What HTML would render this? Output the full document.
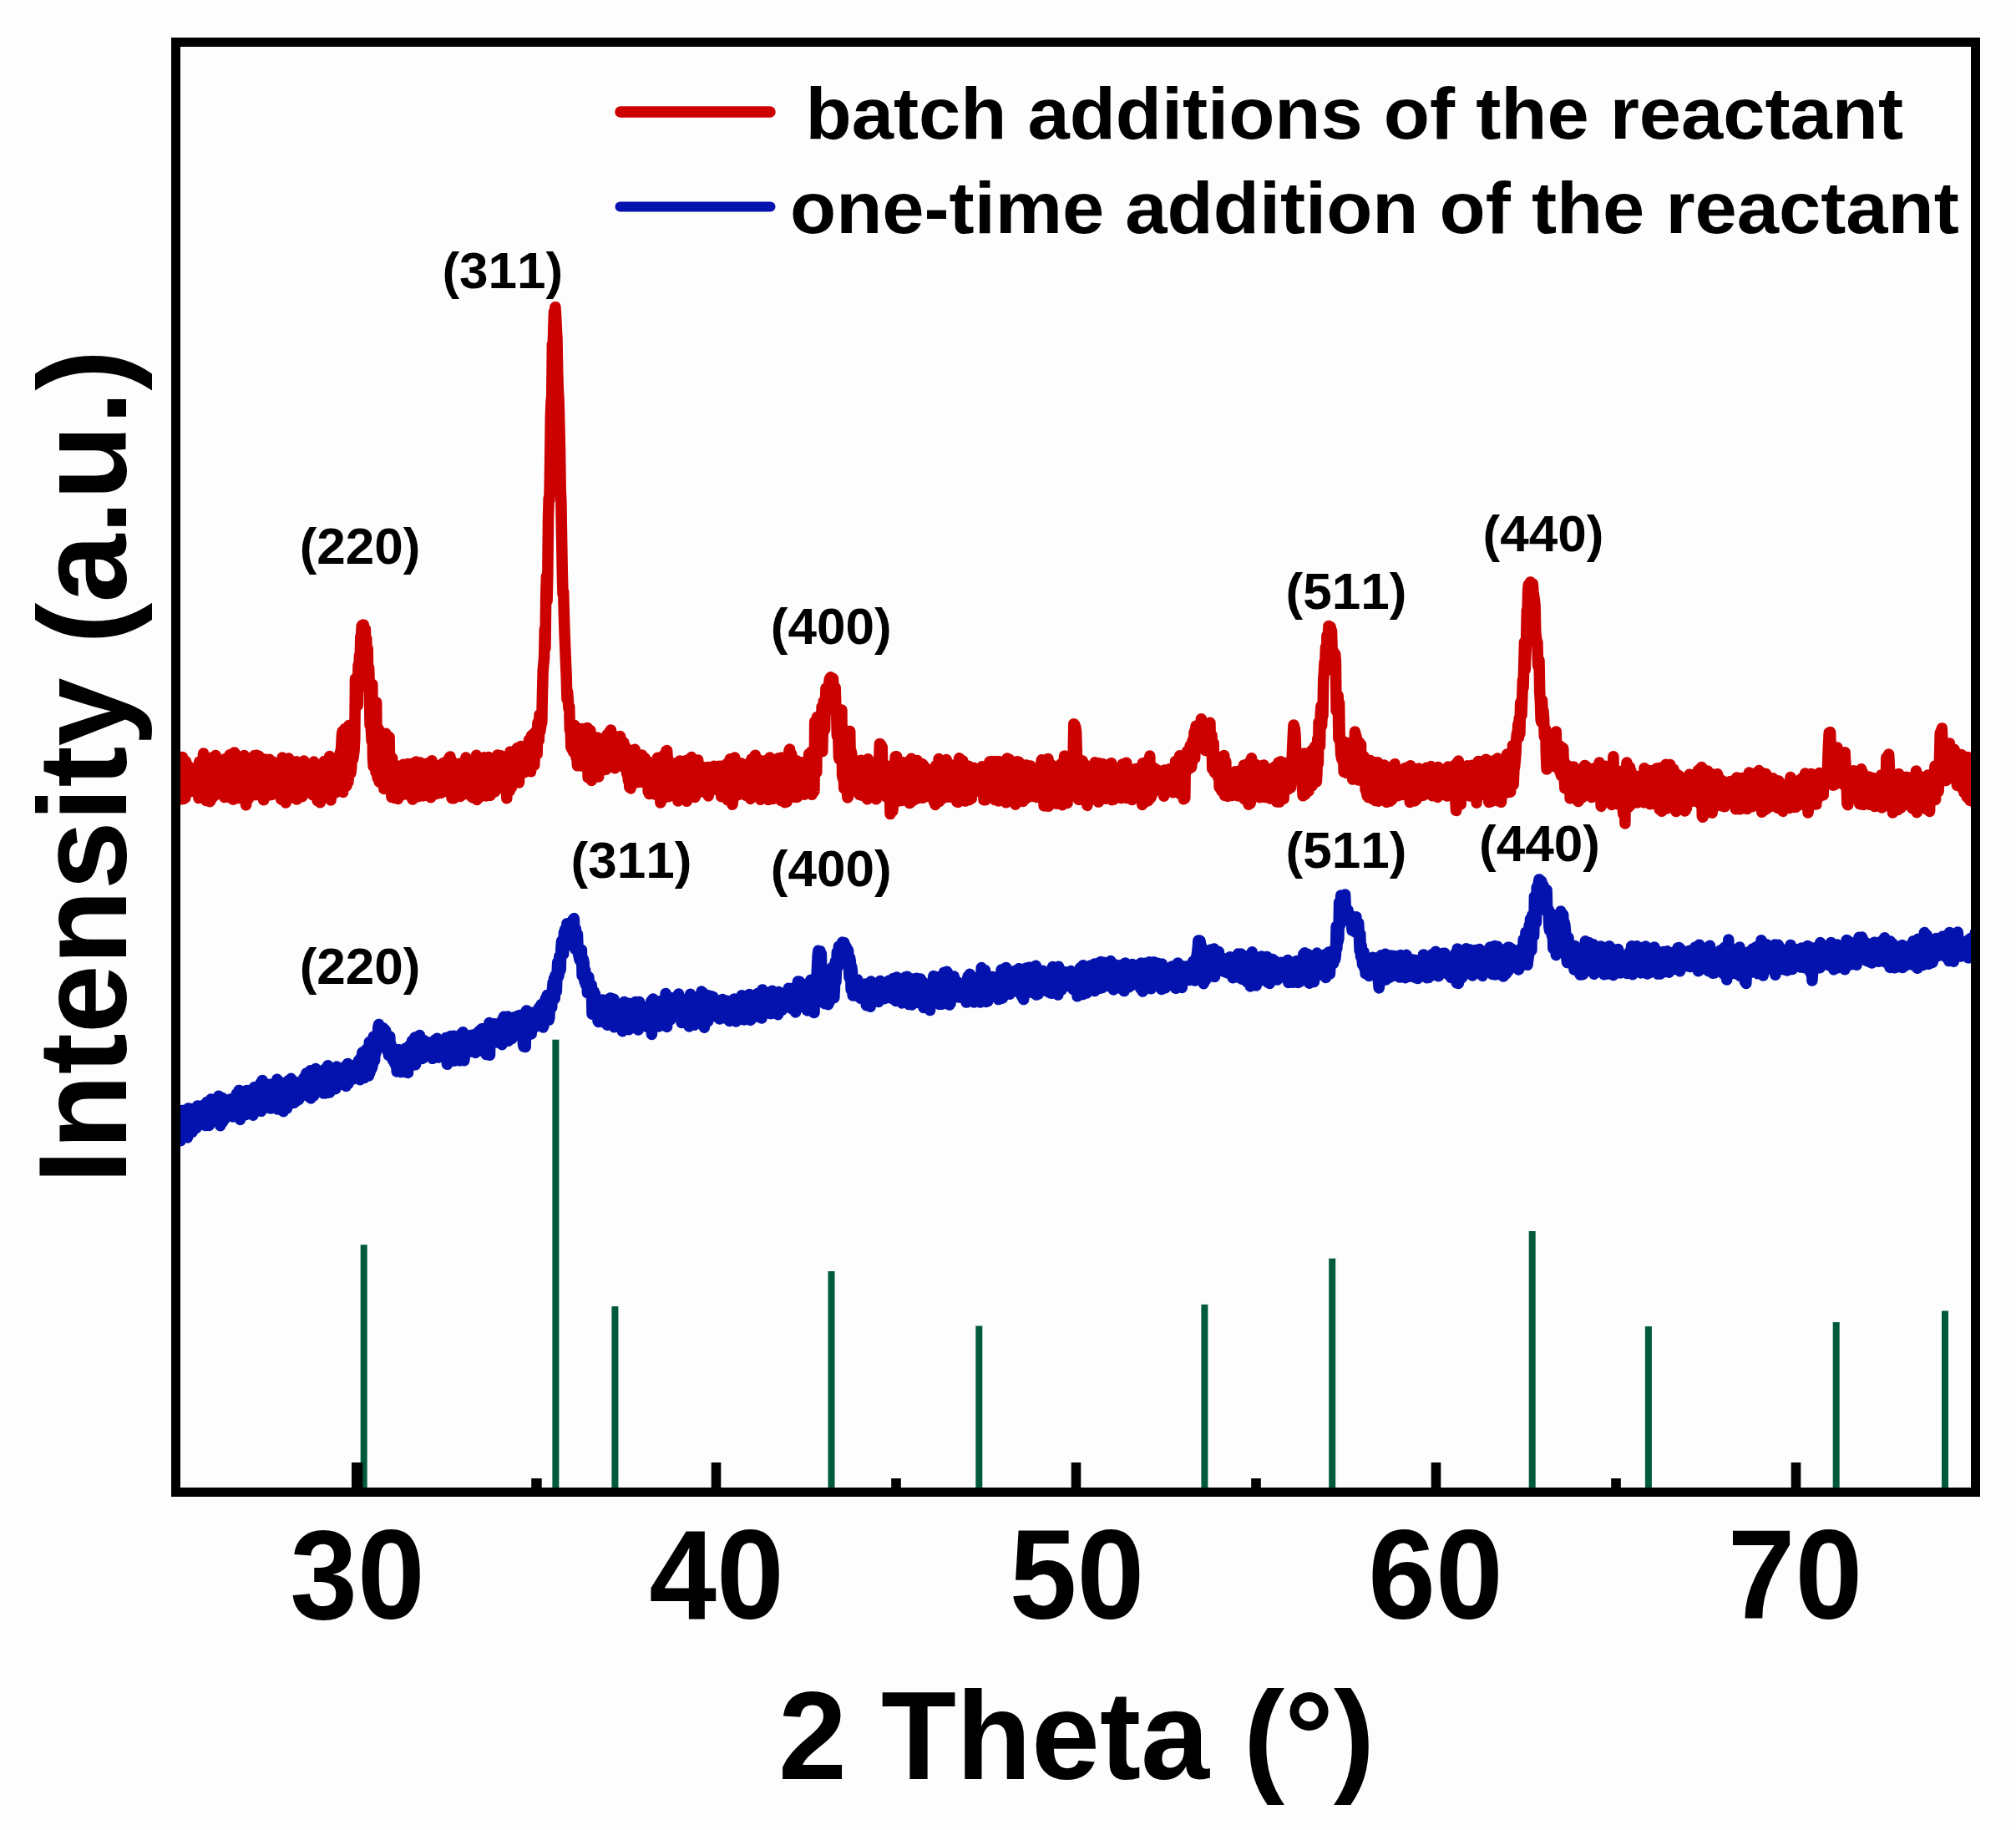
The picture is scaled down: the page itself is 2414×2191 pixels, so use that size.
<!DOCTYPE html>
<html lang="en">
<head>
<meta charset="utf-8">
<title>XRD patterns</title>
<style>
html,body{margin:0;padding:0;background:#fdfdfd;}
body{width:2414px;height:2191px;overflow:hidden;}
svg{display:block;}
text{font-family:"Liberation Sans",Arial,Helvetica,sans-serif;font-weight:bold;fill:#000;font-kerning:none;}
.pk{font-size:60.5px;}
.ax{font-size:150px;}
.tk{font-size:152px;}
.lg{font-size:87.6px;}
</style>
</head>
<body>
<svg width="2414" height="2191" viewBox="0 0 2414 2191">
<rect x="0" y="0" width="2414" height="2191" fill="#fdfdfd"/>
<defs><clipPath id="plot"><rect x="216" y="56" width="2144" height="1725"/></clipPath></defs>
<g fill="#005a3c">
<rect x="431.7" y="1490.3" width="8" height="291.7"/>
<rect x="661.4" y="1244.7" width="8" height="537.3"/>
<rect x="732.4" y="1564.0" width="8" height="218.0"/>
<rect x="991.5" y="1522.0" width="8" height="260.0"/>
<rect x="1168.3" y="1587.4" width="8" height="194.6"/>
<rect x="1438.4" y="1561.8" width="8" height="220.2"/>
<rect x="1591.2" y="1506.7" width="8" height="275.3"/>
<rect x="1830.7" y="1474.0" width="8" height="308.0"/>
<rect x="1969.9" y="1588.0" width="8" height="194.0"/>
<rect x="2194.7" y="1583.0" width="8" height="199.0"/>
<rect x="2325.0" y="1569.4" width="8" height="212.6"/>
</g>
<g clip-path="url(#plot)" fill="none" stroke-linejoin="round" stroke-linecap="round">
<path stroke="#0413ae" stroke-width="13.5" d="M205.0 1334.2L205.7 1334.8L206.4 1340.0L207.1 1329.6L207.8 1362.1L208.5 1360.2L209.2 1360.2L209.9 1332.2L210.6 1363.9L211.3 1351.4L212.0 1329.0L212.7 1353.6L213.4 1341.9L214.1 1348.1L214.8 1329.7L215.5 1361.9L216.2 1365.7L216.9 1362.8L217.6 1333.4L218.3 1329.4L219.0 1355.4L219.7 1360.5L220.4 1343.2L221.1 1359.5L221.8 1349.6L222.5 1350.5L223.2 1340.7L223.9 1340.5L224.6 1361.9L225.3 1327.0L226.0 1330.2L226.7 1347.4L227.4 1327.6L228.1 1329.1L228.8 1354.5L229.5 1338.6L230.2 1355.4L230.9 1353.6L231.6 1345.2L232.3 1341.8L233.0 1335.0L233.7 1350.8L234.4 1328.7L235.1 1350.4L235.8 1331.8L236.5 1323.9L237.2 1333.4L237.9 1334.0L238.6 1343.5L239.3 1327.1L240.0 1339.7L240.7 1334.7L241.4 1334.5L242.1 1330.9L242.8 1346.5L243.5 1327.7L244.2 1322.9L244.9 1335.6L245.6 1322.6L246.3 1347.6L247.0 1327.2L247.7 1319.4L248.4 1339.8L249.1 1321.3L249.8 1338.1L250.5 1347.4L251.2 1345.8L251.9 1318.1L252.6 1315.9L253.3 1323.7L254.0 1327.6L254.7 1338.6L255.4 1340.6L256.1 1318.8L256.8 1324.1L257.5 1335.4L258.2 1341.9L258.9 1340.4L259.6 1321.5L260.3 1332.4L261.0 1325.3L261.7 1312.2L262.4 1315.8L263.1 1333.9L263.8 1347.7L264.5 1322.2L265.2 1318.9L265.9 1314.5L266.6 1343.5L267.3 1316.9L268.0 1321.3L268.7 1340.2L269.4 1321.3L270.1 1325.5L270.8 1321.0L271.5 1317.1L272.2 1318.9L272.9 1333.5L273.6 1323.0L274.3 1317.9L275.0 1332.0L275.7 1316.0L276.4 1319.5L277.1 1322.0L277.8 1321.4L278.5 1336.9L279.2 1335.7L279.9 1329.6L280.6 1316.1L281.3 1330.6L282.0 1325.4L282.7 1337.0L283.4 1309.5L284.1 1330.8L284.8 1330.4L285.5 1308.1L286.2 1305.4L286.9 1308.1L287.6 1340.5L288.3 1325.3L289.0 1318.1L289.7 1331.2L290.4 1335.0L291.1 1307.1L291.8 1326.5L292.5 1328.1L293.2 1319.1L293.9 1306.7L294.6 1334.6L295.3 1305.6L296.0 1333.2L296.7 1321.0L297.4 1327.5L298.1 1315.9L298.8 1314.2L299.5 1305.3L300.2 1307.8L300.9 1313.2L301.6 1312.8L302.3 1307.5L303.0 1335.2L303.7 1305.5L304.4 1301.7L305.1 1309.0L305.8 1312.7L306.5 1314.2L307.2 1327.8L307.9 1313.9L308.6 1321.9L309.3 1322.7L310.0 1329.8L310.7 1301.8L311.4 1299.8L312.1 1296.8L312.8 1330.5L313.5 1316.5L314.2 1293.5L314.9 1328.0L315.6 1297.3L316.3 1301.0L317.0 1300.0L317.7 1312.5L318.4 1324.6L319.1 1322.1L319.8 1319.5L320.5 1323.8L321.2 1305.8L321.9 1298.6L322.6 1317.1L323.3 1298.2L324.0 1327.1L324.7 1323.0L325.4 1308.1L326.1 1314.0L326.8 1320.7L327.5 1314.0L328.2 1320.6L328.9 1322.9L329.6 1313.7L330.3 1305.3L331.0 1304.8L331.7 1292.3L332.4 1328.1L333.1 1316.7L333.8 1294.2L334.5 1294.9L335.2 1304.6L335.9 1323.2L336.6 1325.5L337.3 1328.3L338.0 1308.7L338.7 1315.0L339.4 1330.8L340.1 1312.4L340.8 1328.5L341.5 1303.1L342.2 1317.8L342.9 1326.2L343.6 1327.1L344.3 1322.4L345.0 1294.1L345.7 1293.4L346.4 1295.5L347.1 1306.2L347.8 1320.8L348.5 1291.3L349.2 1299.6L349.9 1314.7L350.6 1294.4L351.3 1294.5L352.0 1320.5L352.7 1294.9L353.4 1308.6L354.1 1318.9L354.8 1301.0L355.5 1313.5L356.2 1314.2L356.9 1311.6L357.6 1316.6L358.3 1306.2L359.0 1308.2L359.7 1296.4L360.4 1304.1L361.1 1311.2L361.8 1309.6L362.5 1295.0L363.2 1304.5L363.9 1290.6L364.6 1301.7L365.3 1299.2L366.0 1311.2L366.7 1285.1L367.4 1309.3L368.1 1296.8L368.8 1287.7L369.5 1302.6L370.2 1313.4L370.9 1310.8L371.6 1281.8L372.3 1314.9L373.0 1290.9L373.7 1284.3L374.4 1304.1L375.1 1301.9L375.8 1311.8L376.5 1285.7L377.2 1281.7L377.9 1279.5L378.6 1290.7L379.3 1297.0L380.0 1302.2L380.7 1300.4L381.4 1282.2L382.1 1283.6L382.8 1292.2L383.5 1290.8L384.2 1284.3L384.9 1283.4L385.6 1304.2L386.3 1303.7L387.0 1308.9L387.7 1284.4L388.4 1286.8L389.1 1279.9L389.8 1308.9L390.5 1301.9L391.2 1300.7L391.9 1289.3L392.6 1275.8L393.3 1308.2L394.0 1294.1L394.7 1308.0L395.4 1280.3L396.1 1302.2L396.8 1285.7L397.5 1291.2L398.2 1287.3L398.9 1280.3L399.6 1281.1L400.3 1303.8L401.0 1300.5L401.7 1303.6L402.4 1279.0L403.1 1277.1L403.8 1295.6L404.5 1278.4L405.2 1283.0L405.9 1296.2L406.6 1291.7L407.3 1297.0L408.0 1280.0L408.7 1280.0L409.4 1298.3L410.1 1286.8L410.8 1280.3L411.5 1282.5L412.2 1293.9L412.9 1291.9L413.6 1276.4L414.3 1300.4L415.0 1298.5L415.7 1283.3L416.4 1273.4L417.1 1297.5L417.8 1283.0L418.5 1289.4L419.2 1277.6L419.9 1276.4L420.6 1279.2L421.3 1290.9L422.0 1292.2L422.7 1281.0L423.4 1289.6L424.1 1288.1L424.8 1287.1L425.5 1274.7L426.2 1290.9L426.9 1275.3L427.6 1290.8L428.3 1288.1L429.0 1291.6L429.7 1269.4L430.4 1272.7L431.1 1292.7L431.8 1266.8L432.5 1284.3L433.2 1265.8L433.9 1260.0L434.6 1269.3L435.3 1270.0L436.0 1290.6L436.7 1271.0L437.4 1265.8L438.1 1276.0L438.8 1256.1L439.5 1257.5L440.2 1288.3L440.9 1282.1L441.6 1288.0L442.3 1247.5L443.0 1284.1L443.7 1280.2L444.4 1268.9L445.1 1279.4L445.8 1277.1L446.5 1273.5L447.2 1241.1L447.9 1257.7L448.6 1269.7L449.3 1243.8L450.0 1260.6L450.7 1253.2L451.4 1250.0L452.1 1246.2L452.8 1230.3L453.5 1226.5L454.2 1230.9L454.9 1240.9L455.6 1229.9L456.3 1230.4L457.0 1232.0L457.7 1234.9L458.4 1230.7L459.1 1238.8L459.8 1242.5L460.5 1232.5L461.2 1247.2L461.9 1234.6L462.6 1239.9L463.3 1257.5L464.0 1254.4L464.7 1257.7L465.4 1263.4L466.1 1247.2L466.8 1240.9L467.5 1258.3L468.2 1250.8L468.9 1263.5L469.6 1267.5L470.3 1257.2L471.0 1270.3L471.7 1256.1L472.4 1271.7L473.1 1274.3L473.8 1274.7L474.5 1267.0L475.2 1283.0L475.9 1273.3L476.6 1256.8L477.3 1256.5L478.0 1265.5L478.7 1268.6L479.4 1281.9L480.1 1283.6L480.8 1266.1L481.5 1276.5L482.2 1261.9L482.9 1259.7L483.6 1273.6L484.3 1275.9L485.0 1275.2L485.7 1254.9L486.4 1283.9L487.1 1278.0L487.8 1281.2L488.5 1284.4L489.2 1254.2L489.9 1270.2L490.6 1251.4L491.3 1268.8L492.0 1276.4L492.7 1264.6L493.4 1246.2L494.1 1265.5L494.8 1272.6L495.5 1270.8L496.2 1274.0L496.9 1242.0L497.6 1274.8L498.3 1251.9L499.0 1245.3L499.7 1252.9L500.4 1242.4L501.1 1248.2L501.8 1261.3L502.5 1239.5L503.2 1245.2L503.9 1244.4L504.6 1266.1L505.3 1267.5L506.0 1258.9L506.7 1266.9L507.4 1245.5L508.1 1265.2L508.8 1262.3L509.5 1247.6L510.2 1251.3L510.9 1250.1L511.6 1250.4L512.3 1263.0L513.0 1247.9L513.7 1251.5L514.4 1249.8L515.1 1258.8L515.8 1258.1L516.5 1265.7L517.2 1263.6L517.9 1267.3L518.6 1251.9L519.3 1248.0L520.0 1259.6L520.7 1245.2L521.4 1246.2L522.1 1264.9L522.8 1263.6L523.5 1243.3L524.2 1244.4L524.9 1266.1L525.6 1265.7L526.3 1264.1L527.0 1262.5L527.7 1252.4L528.4 1260.9L529.1 1247.2L529.8 1257.1L530.5 1250.4L531.2 1260.7L531.9 1247.4L532.6 1247.6L533.3 1247.0L534.0 1242.5L534.7 1263.4L535.4 1274.3L536.1 1270.0L536.8 1252.2L537.5 1269.9L538.2 1254.3L538.9 1254.6L539.6 1240.4L540.3 1258.8L541.0 1264.9L541.7 1247.5L542.4 1241.1L543.1 1240.2L543.8 1270.2L544.5 1247.0L545.2 1266.1L545.9 1250.3L546.6 1248.0L547.3 1267.6L548.0 1243.4L548.7 1256.6L549.4 1250.2L550.1 1269.9L550.8 1259.4L551.5 1263.1L552.2 1237.8L552.9 1248.3L553.6 1247.9L554.3 1235.7L555.0 1266.2L555.7 1269.8L556.4 1265.1L557.1 1262.2L557.8 1248.0L558.5 1247.1L559.2 1241.0L559.9 1242.9L560.6 1243.8L561.3 1255.3L562.0 1244.7L562.7 1250.1L563.4 1239.5L564.1 1258.9L564.8 1239.6L565.5 1255.5L566.2 1241.2L566.9 1241.8L567.6 1238.7L568.3 1242.9L569.0 1260.4L569.7 1255.3L570.4 1239.8L571.1 1258.9L571.8 1236.6L572.5 1239.9L573.2 1242.4L573.9 1234.5L574.6 1234.2L575.3 1234.6L576.0 1255.8L576.7 1231.8L577.4 1258.0L578.1 1248.3L578.8 1237.1L579.5 1231.4L580.2 1259.9L580.9 1256.7L581.6 1250.6L582.3 1262.6L583.0 1232.4L583.7 1235.2L584.4 1229.6L585.1 1252.1L585.8 1224.6L586.5 1263.3L587.2 1227.5L587.9 1248.9L588.6 1237.6L589.3 1249.4L590.0 1226.1L590.7 1229.7L591.4 1225.7L592.1 1235.8L592.8 1243.9L593.5 1246.7L594.2 1245.0L594.9 1245.2L595.6 1232.7L596.3 1248.3L597.0 1237.7L597.7 1243.4L598.4 1228.8L599.1 1239.9L599.8 1224.2L600.5 1222.5L601.2 1250.7L601.9 1233.9L602.6 1247.7L603.3 1217.3L604.0 1238.0L604.7 1217.9L605.4 1219.4L606.1 1221.1L606.8 1245.0L607.5 1241.6L608.2 1217.1L608.9 1246.2L609.6 1225.1L610.3 1229.0L611.0 1221.2L611.7 1237.3L612.4 1220.0L613.1 1243.4L613.8 1220.9L614.5 1223.9L615.2 1218.4L615.9 1217.8L616.6 1235.6L617.3 1233.8L618.0 1236.7L618.7 1229.2L619.4 1216.6L620.1 1238.6L620.8 1238.7L621.5 1236.9L622.2 1215.4L622.9 1217.5L623.6 1236.8L624.3 1241.5L625.0 1231.5L625.7 1226.8L626.4 1249.9L627.1 1253.0L627.8 1218.5L628.5 1216.0L629.2 1253.6L629.9 1210.8L630.6 1209.9L631.3 1234.0L632.0 1237.0L632.7 1226.3L633.4 1229.5L634.1 1216.7L634.8 1216.7L635.5 1230.9L636.2 1238.0L636.9 1212.3L637.6 1218.5L638.3 1217.5L639.0 1215.3L639.7 1230.4L640.4 1213.0L641.1 1227.4L641.8 1225.5L642.5 1211.6L643.2 1213.2L643.9 1226.3L644.6 1224.5L645.3 1206.8L646.0 1208.6L646.7 1209.2L647.4 1222.0L648.1 1202.6L648.8 1217.9L649.5 1214.0L650.2 1230.0L650.9 1228.4L651.6 1219.6L652.3 1220.3L653.0 1196.2L653.7 1204.1L654.4 1197.5L655.1 1191.6L655.8 1196.2L656.5 1211.5L657.2 1221.1L657.9 1218.2L658.6 1198.0L659.3 1206.9L660.0 1206.2L660.7 1206.2L661.4 1184.3L662.1 1176.7L662.8 1188.7L663.5 1171.1L664.2 1195.8L664.9 1168.0L665.6 1173.7L666.3 1187.2L667.0 1167.7L667.7 1151.9L668.4 1169.7L669.1 1167.6L669.8 1145.0L670.5 1162.6L671.2 1160.8L671.9 1134.5L672.6 1126.4L673.3 1131.9L674.0 1136.9L674.7 1142.2L675.4 1116.1L676.1 1128.0L676.8 1112.4L677.5 1125.3L678.2 1132.4L678.9 1105.7L679.6 1122.9L680.3 1115.6L681.0 1108.2L681.7 1110.8L682.4 1111.1L683.1 1107.5L683.8 1112.5L684.5 1112.1L685.2 1108.4L685.9 1101.0L686.6 1100.6L687.3 1099.6L688.0 1113.8L688.7 1136.3L689.4 1112.4L690.1 1127.1L690.8 1134.4L691.5 1118.4L692.2 1140.8L692.9 1143.8L693.6 1146.9L694.3 1149.7L695.0 1149.9L695.7 1142.4L696.4 1137.3L697.1 1168.3L697.8 1168.9L698.5 1149.1L699.2 1152.6L699.9 1174.8L700.6 1161.2L701.3 1178.5L702.0 1178.7L702.7 1167.5L703.4 1188.8L704.1 1171.5L704.8 1169.5L705.5 1176.4L706.2 1179.7L706.9 1187.9L707.6 1184.6L708.3 1179.8L709.0 1214.2L709.7 1194.2L710.4 1207.6L711.1 1187.1L711.8 1192.5L712.5 1190.0L713.2 1202.3L713.9 1199.3L714.6 1210.1L715.3 1196.4L716.0 1222.3L716.7 1223.5L717.4 1213.8L718.1 1221.4L718.8 1209.3L719.5 1216.2L720.2 1201.1L720.9 1223.1L721.6 1197.0L722.3 1214.7L723.0 1198.7L723.7 1224.3L724.4 1221.0L725.1 1205.6L725.8 1198.2L726.5 1207.2L727.2 1227.3L727.9 1203.2L728.6 1196.2L729.3 1197.0L730.0 1199.3L730.7 1194.9L731.4 1206.7L732.1 1219.8L732.8 1196.1L733.5 1203.2L734.2 1205.8L734.9 1196.2L735.6 1229.8L736.3 1221.6L737.0 1210.3L737.7 1209.5L738.4 1204.1L739.1 1215.6L739.8 1203.2L740.5 1221.6L741.2 1203.5L741.9 1212.9L742.6 1219.5L743.3 1214.7L744.0 1229.0L744.7 1211.3L745.4 1234.7L746.1 1210.1L746.8 1224.6L747.5 1199.5L748.2 1212.3L748.9 1214.8L749.6 1216.0L750.3 1212.4L751.0 1202.8L751.7 1225.5L752.4 1201.3L753.1 1232.7L753.8 1209.4L754.5 1206.4L755.2 1212.3L755.9 1219.7L756.6 1204.5L757.3 1230.3L758.0 1226.0L758.7 1222.0L759.4 1209.4L760.1 1206.7L760.8 1199.4L761.5 1231.0L762.2 1203.9L762.9 1206.9L763.6 1213.5L764.3 1233.0L765.0 1221.5L765.7 1199.6L766.4 1207.6L767.1 1227.8L767.8 1224.2L768.5 1204.6L769.2 1218.9L769.9 1218.8L770.6 1208.2L771.3 1228.2L772.0 1222.3L772.7 1227.1L773.4 1228.9L774.1 1223.3L774.8 1210.0L775.5 1229.7L776.2 1222.8L776.9 1224.6L777.6 1220.4L778.3 1203.5L779.0 1216.5L779.7 1198.7L780.4 1238.4L781.1 1206.2L781.8 1196.0L782.5 1201.3L783.2 1203.0L783.9 1200.7L784.6 1202.7L785.3 1201.9L786.0 1216.6L786.7 1203.0L787.4 1219.6L788.1 1199.0L788.8 1228.9L789.5 1209.6L790.2 1201.7L790.9 1217.8L791.6 1227.8L792.3 1198.1L793.0 1199.7L793.7 1199.2L794.4 1225.0L795.1 1215.4L795.8 1224.5L796.5 1221.3L797.2 1189.4L797.9 1223.1L798.6 1229.4L799.3 1194.5L800.0 1218.8L800.7 1210.5L801.4 1195.6L802.1 1194.5L802.8 1221.0L803.5 1208.8L804.2 1208.1L804.9 1209.1L805.6 1196.0L806.3 1194.8L807.0 1196.8L807.7 1206.5L808.4 1210.0L809.1 1204.0L809.8 1193.3L810.5 1209.3L811.2 1195.9L811.9 1201.4L812.6 1190.1L813.3 1205.7L814.0 1216.7L814.7 1211.1L815.4 1208.1L816.1 1224.5L816.8 1219.5L817.5 1208.0L818.2 1200.6L818.9 1199.2L819.6 1197.3L820.3 1202.7L821.0 1197.5L821.7 1221.9L822.4 1216.0L823.1 1195.9L823.8 1226.6L824.5 1194.6L825.2 1229.0L825.9 1203.7L826.6 1190.2L827.3 1208.7L828.0 1216.1L828.7 1196.5L829.4 1220.3L830.1 1199.4L830.8 1205.1L831.5 1227.3L832.2 1217.3L832.9 1203.2L833.6 1222.5L834.3 1199.4L835.0 1219.1L835.7 1200.6L836.4 1222.1L837.1 1215.6L837.8 1203.7L838.5 1225.3L839.2 1208.8L839.9 1187.1L840.6 1195.0L841.3 1188.0L842.0 1211.1L842.7 1214.1L843.4 1230.2L844.1 1215.4L844.8 1211.8L845.5 1222.1L846.2 1220.6L846.9 1191.5L847.6 1222.9L848.3 1204.8L849.0 1211.5L849.7 1206.8L850.4 1207.3L851.1 1192.6L851.8 1210.2L852.5 1204.6L853.2 1214.7L853.9 1193.5L854.6 1215.3L855.3 1201.9L856.0 1214.7L856.7 1216.9L857.4 1213.0L858.1 1216.5L858.8 1213.4L859.5 1207.4L860.2 1204.3L860.9 1206.1L861.6 1219.9L862.3 1200.2L863.0 1218.5L863.7 1200.6L864.4 1214.4L865.1 1196.4L865.8 1214.7L866.5 1216.3L867.2 1217.3L867.9 1213.2L868.6 1219.2L869.3 1211.2L870.0 1200.5L870.7 1198.2L871.4 1219.5L872.1 1213.4L872.8 1201.6L873.5 1222.6L874.2 1213.4L874.9 1221.0L875.6 1216.0L876.3 1216.3L877.0 1215.3L877.7 1220.0L878.4 1202.9L879.1 1196.0L879.8 1215.7L880.5 1213.4L881.2 1223.0L881.9 1200.1L882.6 1202.2L883.3 1198.5L884.0 1204.6L884.7 1203.2L885.4 1200.7L886.1 1220.5L886.8 1217.9L887.5 1213.1L888.2 1191.8L888.9 1198.6L889.6 1211.0L890.3 1196.1L891.0 1220.9L891.7 1217.8L892.4 1213.5L893.1 1213.1L893.8 1193.6L894.5 1218.5L895.2 1210.1L895.9 1208.7L896.6 1208.7L897.3 1190.4L898.0 1200.3L898.7 1221.5L899.4 1220.5L900.1 1192.0L900.8 1218.1L901.5 1216.2L902.2 1203.8L902.9 1217.6L903.6 1212.2L904.3 1205.5L905.0 1202.1L905.7 1213.7L906.4 1207.1L907.1 1189.5L907.8 1202.5L908.5 1216.7L909.2 1195.9L909.9 1193.8L910.6 1211.6L911.3 1216.9L912.0 1219.1L912.7 1185.0L913.4 1188.1L914.1 1214.1L914.8 1207.6L915.5 1187.5L916.2 1211.3L916.9 1205.9L917.6 1189.5L918.3 1190.6L919.0 1196.4L919.7 1193.2L920.4 1188.0L921.1 1191.4L921.8 1213.6L922.5 1195.7L923.2 1189.3L923.9 1213.6L924.6 1186.3L925.3 1211.8L926.0 1189.6L926.7 1197.0L927.4 1210.5L928.1 1207.5L928.8 1201.0L929.5 1199.0L930.2 1198.3L930.9 1197.7L931.6 1214.8L932.3 1187.4L933.0 1191.1L933.7 1191.3L934.4 1204.4L935.1 1189.4L935.8 1205.8L936.5 1209.3L937.2 1208.0L937.9 1201.7L938.6 1198.4L939.3 1192.4L940.0 1189.8L940.7 1206.1L941.4 1188.9L942.1 1189.0L942.8 1186.9L943.5 1203.8L944.2 1183.3L944.9 1189.5L945.6 1186.5L946.3 1190.3L947.0 1192.5L947.7 1183.6L948.4 1207.8L949.1 1206.7L949.8 1190.7L950.5 1197.5L951.2 1186.1L951.9 1187.0L952.6 1211.9L953.3 1202.3L954.0 1207.2L954.7 1186.7L955.4 1175.1L956.1 1175.2L956.8 1198.3L957.5 1175.3L958.2 1203.1L958.9 1203.5L959.6 1202.6L960.3 1188.0L961.0 1202.7L961.7 1200.3L962.4 1204.0L963.1 1206.1L963.8 1185.7L964.5 1189.7L965.2 1187.2L965.9 1189.9L966.6 1209.9L967.3 1177.5L968.0 1181.5L968.7 1192.0L969.4 1179.6L970.1 1184.9L970.8 1173.3L971.5 1193.0L972.2 1199.1L972.9 1202.1L973.6 1175.1L974.3 1212.2L975.0 1212.4L975.7 1181.4L976.4 1178.4L977.1 1201.8L977.8 1173.7L978.5 1157.7L979.2 1143.6L979.9 1138.2L980.6 1139.4L981.3 1140.8L982.0 1138.7L982.7 1144.6L983.4 1142.2L984.1 1177.4L984.8 1176.9L985.5 1179.3L986.2 1192.4L986.9 1182.6L987.6 1201.8L988.3 1192.4L989.0 1201.7L989.7 1187.2L990.4 1192.3L991.1 1193.5L991.8 1202.7L992.5 1179.9L993.2 1199.6L993.9 1186.2L994.6 1197.2L995.3 1176.5L996.0 1173.7L996.7 1158.0L997.4 1171.2L998.1 1176.6L998.8 1194.6L999.5 1180.4L1000.2 1151.2L1000.9 1175.7L1001.6 1159.9L1002.3 1140.0L1003.0 1158.5L1003.7 1150.2L1004.4 1132.9L1005.1 1143.9L1005.8 1149.9L1006.5 1133.1L1007.2 1130.9L1007.9 1135.9L1008.6 1128.1L1009.3 1129.2L1010.0 1131.0L1010.7 1128.5L1011.4 1132.5L1012.1 1132.0L1012.8 1150.2L1013.5 1134.3L1014.2 1136.0L1014.9 1138.1L1015.6 1138.2L1016.3 1153.7L1017.0 1170.5L1017.7 1147.0L1018.4 1151.9L1019.1 1184.8L1019.8 1157.6L1020.5 1163.7L1021.2 1191.9L1021.9 1189.8L1022.6 1175.9L1023.3 1187.7L1024.0 1182.8L1024.7 1192.1L1025.4 1180.1L1026.1 1189.9L1026.8 1173.1L1027.5 1175.3L1028.2 1183.1L1028.9 1188.8L1029.6 1192.5L1030.3 1195.2L1031.0 1177.9L1031.7 1195.0L1032.4 1194.9L1033.1 1188.0L1033.8 1190.5L1034.5 1191.2L1035.2 1190.9L1035.9 1197.3L1036.6 1178.0L1037.3 1203.5L1038.0 1193.3L1038.7 1204.1L1039.4 1183.2L1040.1 1185.5L1040.8 1184.2L1041.5 1193.6L1042.2 1205.3L1042.9 1175.1L1043.6 1199.1L1044.3 1188.2L1045.0 1177.6L1045.7 1193.7L1046.4 1198.7L1047.1 1183.5L1047.8 1184.6L1048.5 1177.9L1049.2 1188.2L1049.9 1177.5L1050.6 1197.9L1051.3 1180.5L1052.0 1199.6L1052.7 1175.7L1053.4 1175.0L1054.1 1174.5L1054.8 1181.8L1055.5 1177.5L1056.2 1189.1L1056.9 1184.4L1057.6 1184.6L1058.3 1195.0L1059.0 1195.7L1059.7 1189.1L1060.4 1181.3L1061.1 1187.4L1061.8 1187.1L1062.5 1183.1L1063.2 1189.3L1063.9 1192.5L1064.6 1174.0L1065.3 1175.7L1066.0 1194.9L1066.7 1185.7L1067.4 1192.3L1068.1 1192.6L1068.8 1184.7L1069.5 1171.6L1070.2 1194.6L1070.9 1197.0L1071.6 1172.2L1072.3 1172.7L1073.0 1198.6L1073.7 1169.9L1074.4 1182.5L1075.1 1174.9L1075.8 1174.2L1076.5 1174.0L1077.2 1181.1L1077.9 1176.7L1078.6 1197.4L1079.3 1197.1L1080.0 1200.9L1080.7 1194.2L1081.4 1198.4L1082.1 1195.6L1082.8 1176.3L1083.5 1191.4L1084.2 1169.8L1084.9 1192.3L1085.6 1172.4L1086.3 1169.3L1087.0 1183.7L1087.7 1179.1L1088.4 1202.6L1089.1 1195.3L1089.8 1176.7L1090.5 1187.0L1091.2 1200.5L1091.9 1202.9L1092.6 1171.9L1093.3 1186.4L1094.0 1181.4L1094.7 1194.0L1095.4 1183.3L1096.1 1199.1L1096.8 1194.1L1097.5 1171.3L1098.2 1175.3L1098.9 1198.3L1099.6 1174.3L1100.3 1193.8L1101.0 1185.2L1101.7 1201.2L1102.4 1172.1L1103.1 1181.0L1103.8 1176.0L1104.5 1182.0L1105.2 1175.9L1105.9 1206.4L1106.6 1179.8L1107.3 1191.1L1108.0 1188.0L1108.7 1193.6L1109.4 1198.6L1110.1 1184.0L1110.8 1193.4L1111.5 1194.6L1112.2 1196.4L1112.9 1204.4L1113.6 1209.6L1114.3 1190.8L1115.0 1197.7L1115.7 1186.8L1116.4 1201.3L1117.1 1175.2L1117.8 1168.6L1118.5 1179.2L1119.2 1193.8L1119.9 1195.6L1120.6 1197.8L1121.3 1183.8L1122.0 1192.8L1122.7 1176.4L1123.4 1195.4L1124.1 1169.5L1124.8 1202.5L1125.5 1196.5L1126.2 1194.8L1126.9 1189.4L1127.6 1202.3L1128.3 1200.7L1129.0 1186.6L1129.7 1199.7L1130.4 1164.2L1131.1 1188.1L1131.8 1191.3L1132.5 1198.8L1133.2 1195.1L1133.9 1163.3L1134.6 1178.5L1135.3 1196.2L1136.0 1187.3L1136.7 1203.0L1137.4 1199.0L1138.1 1201.2L1138.8 1191.7L1139.5 1168.9L1140.2 1186.8L1140.9 1175.6L1141.6 1188.1L1142.3 1169.1L1143.0 1185.5L1143.7 1181.6L1144.4 1178.6L1145.1 1185.3L1145.8 1179.0L1146.5 1175.5L1147.2 1177.5L1147.9 1194.0L1148.6 1180.2L1149.3 1181.2L1150.0 1180.4L1150.7 1179.4L1151.4 1194.5L1152.1 1192.3L1152.8 1182.4L1153.5 1192.7L1154.2 1182.3L1154.9 1178.3L1155.6 1176.7L1156.3 1191.0L1157.0 1200.1L1157.7 1194.3L1158.4 1172.7L1159.1 1169.0L1159.8 1181.2L1160.5 1169.9L1161.2 1166.3L1161.9 1169.9L1162.6 1180.1L1163.3 1168.9L1164.0 1191.4L1164.7 1179.1L1165.4 1186.6L1166.1 1199.9L1166.8 1194.5L1167.5 1193.6L1168.2 1173.2L1168.9 1176.3L1169.6 1176.0L1170.3 1175.7L1171.0 1194.9L1171.7 1193.8L1172.4 1174.5L1173.1 1190.8L1173.8 1200.1L1174.5 1182.2L1175.2 1158.6L1175.9 1171.6L1176.6 1179.1L1177.3 1194.2L1178.0 1165.2L1178.7 1164.3L1179.4 1161.5L1180.1 1164.5L1180.8 1199.5L1181.5 1193.2L1182.2 1173.0L1182.9 1198.7L1183.6 1175.2L1184.3 1191.5L1185.0 1193.1L1185.7 1188.4L1186.4 1188.3L1187.1 1193.6L1187.8 1178.9L1188.5 1169.4L1189.2 1174.5L1189.9 1174.9L1190.6 1188.0L1191.3 1177.8L1192.0 1189.7L1192.7 1191.8L1193.4 1176.8L1194.1 1173.1L1194.8 1172.6L1195.5 1196.6L1196.2 1186.1L1196.9 1194.1L1197.6 1186.0L1198.3 1185.9L1199.0 1161.1L1199.7 1165.0L1200.4 1195.2L1201.1 1186.4L1201.8 1184.7L1202.5 1164.2L1203.2 1181.8L1203.9 1187.1L1204.6 1158.4L1205.3 1159.2L1206.0 1180.5L1206.7 1177.3L1207.4 1168.7L1208.1 1182.2L1208.8 1190.2L1209.5 1186.5L1210.2 1187.9L1210.9 1166.6L1211.6 1174.1L1212.3 1178.2L1213.0 1184.9L1213.7 1186.8L1214.4 1165.8L1215.1 1169.7L1215.8 1167.5L1216.5 1161.9L1217.2 1180.2L1217.9 1176.1L1218.6 1167.8L1219.3 1165.9L1220.0 1159.7L1220.7 1168.1L1221.4 1178.9L1222.1 1184.6L1222.8 1191.7L1223.5 1173.1L1224.2 1171.0L1224.9 1195.0L1225.6 1196.6L1226.3 1191.0L1227.0 1170.8L1227.7 1159.8L1228.4 1159.3L1229.1 1172.9L1229.8 1188.7L1230.5 1176.8L1231.2 1158.6L1231.9 1187.7L1232.6 1158.3L1233.3 1162.7L1234.0 1158.3L1234.7 1158.5L1235.4 1180.1L1236.1 1162.8L1236.8 1174.4L1237.5 1188.9L1238.2 1187.0L1238.9 1175.2L1239.6 1162.7L1240.3 1156.2L1241.0 1191.1L1241.7 1167.4L1242.4 1183.1L1243.1 1190.2L1243.8 1188.0L1244.5 1181.5L1245.2 1170.8L1245.9 1180.9L1246.6 1168.3L1247.3 1186.2L1248.0 1180.7L1248.7 1162.3L1249.4 1164.8L1250.1 1174.3L1250.8 1169.6L1251.5 1180.5L1252.2 1181.3L1252.9 1185.7L1253.6 1178.1L1254.3 1187.0L1255.0 1180.7L1255.7 1187.6L1256.4 1184.9L1257.1 1170.9L1257.8 1189.1L1258.5 1185.0L1259.2 1189.3L1259.9 1183.4L1260.6 1157.4L1261.3 1188.3L1262.0 1160.9L1262.7 1162.3L1263.4 1160.0L1264.1 1175.0L1264.8 1168.6L1265.5 1183.6L1266.2 1180.3L1266.9 1191.1L1267.6 1157.2L1268.3 1163.2L1269.0 1184.2L1269.7 1177.5L1270.4 1163.6L1271.1 1185.2L1271.8 1172.9L1272.5 1163.4L1273.2 1163.4L1273.9 1182.0L1274.6 1163.6L1275.3 1172.9L1276.0 1169.6L1276.7 1178.7L1277.4 1178.6L1278.1 1169.0L1278.8 1170.0L1279.5 1165.5L1280.2 1167.4L1280.9 1168.9L1281.6 1163.2L1282.3 1162.6L1283.0 1166.5L1283.7 1170.0L1284.4 1178.9L1285.1 1184.6L1285.8 1173.8L1286.5 1181.4L1287.2 1185.4L1287.9 1168.4L1288.6 1186.8L1289.3 1168.8L1290.0 1192.8L1290.7 1187.9L1291.4 1166.8L1292.1 1171.8L1292.8 1160.6L1293.5 1158.8L1294.2 1162.1L1294.9 1189.4L1295.6 1188.8L1296.3 1190.6L1297.0 1155.7L1297.7 1187.2L1298.4 1161.3L1299.1 1164.6L1299.8 1164.8L1300.5 1168.3L1301.2 1189.0L1301.9 1176.7L1302.6 1158.7L1303.3 1165.8L1304.0 1179.7L1304.7 1161.6L1305.4 1156.3L1306.1 1181.5L1306.8 1168.6L1307.5 1176.1L1308.2 1175.6L1308.9 1176.0L1309.6 1173.3L1310.3 1154.1L1311.0 1186.6L1311.7 1177.4L1312.4 1182.6L1313.1 1159.4L1313.8 1174.6L1314.5 1171.5L1315.2 1152.9L1315.9 1168.8L1316.6 1170.5L1317.3 1183.2L1318.0 1151.6L1318.7 1177.1L1319.4 1179.3L1320.1 1182.4L1320.8 1181.8L1321.5 1152.2L1322.2 1157.0L1322.9 1159.0L1323.6 1156.2L1324.3 1160.9L1325.0 1179.2L1325.7 1168.3L1326.4 1153.6L1327.1 1169.4L1327.8 1180.8L1328.5 1161.5L1329.2 1178.3L1329.9 1150.6L1330.6 1166.2L1331.3 1167.1L1332.0 1159.5L1332.7 1173.3L1333.4 1185.0L1334.1 1176.0L1334.8 1154.7L1335.5 1157.5L1336.2 1163.3L1336.9 1160.1L1337.6 1159.7L1338.3 1162.5L1339.0 1160.1L1339.7 1161.3L1340.4 1176.2L1341.1 1155.8L1341.8 1183.2L1342.5 1183.2L1343.2 1155.2L1343.9 1172.9L1344.6 1183.0L1345.3 1178.6L1346.0 1186.5L1346.7 1180.5L1347.4 1152.9L1348.1 1177.0L1348.8 1166.8L1349.5 1171.5L1350.2 1175.9L1350.9 1182.1L1351.6 1173.2L1352.3 1172.5L1353.0 1161.6L1353.7 1180.5L1354.4 1158.2L1355.1 1175.8L1355.8 1154.6L1356.5 1174.1L1357.2 1161.8L1357.9 1172.5L1358.6 1178.4L1359.3 1157.3L1360.0 1155.7L1360.7 1159.9L1361.4 1163.8L1362.1 1155.3L1362.8 1165.5L1363.5 1180.0L1364.2 1163.4L1364.9 1162.2L1365.6 1183.3L1366.3 1153.1L1367.0 1185.2L1367.7 1158.9L1368.4 1187.0L1369.1 1162.0L1369.8 1161.7L1370.5 1180.2L1371.2 1153.2L1371.9 1182.8L1372.6 1178.9L1373.3 1179.5L1374.0 1154.0L1374.7 1175.5L1375.4 1164.1L1376.1 1151.7L1376.8 1152.0L1377.5 1166.5L1378.2 1183.8L1378.9 1179.1L1379.6 1153.9L1380.3 1177.8L1381.0 1181.2L1381.7 1151.7L1382.4 1156.9L1383.1 1164.9L1383.8 1180.4L1384.5 1158.4L1385.2 1159.8L1385.9 1153.3L1386.6 1157.1L1387.3 1156.1L1388.0 1162.4L1388.7 1180.1L1389.4 1158.1L1390.1 1169.4L1390.8 1184.5L1391.5 1154.1L1392.2 1165.7L1392.9 1182.8L1393.6 1178.6L1394.3 1179.5L1395.0 1182.9L1395.7 1168.0L1396.4 1165.5L1397.1 1160.8L1397.8 1170.9L1398.5 1162.1L1399.2 1174.4L1399.9 1170.7L1400.6 1178.4L1401.3 1172.5L1402.0 1170.1L1402.7 1168.4L1403.4 1156.9L1404.1 1163.3L1404.8 1170.2L1405.5 1163.5L1406.2 1175.4L1406.9 1171.5L1407.6 1183.3L1408.3 1177.9L1409.0 1176.7L1409.7 1178.6L1410.4 1153.0L1411.1 1161.7L1411.8 1157.1L1412.5 1180.4L1413.2 1170.9L1413.9 1175.5L1414.6 1168.4L1415.3 1182.6L1416.0 1160.6L1416.7 1158.1L1417.4 1156.9L1418.1 1169.9L1418.8 1168.8L1419.5 1159.5L1420.2 1163.0L1420.9 1157.0L1421.6 1169.6L1422.3 1164.4L1423.0 1167.9L1423.7 1173.5L1424.4 1162.3L1425.1 1156.1L1425.8 1164.5L1426.5 1155.7L1427.2 1167.6L1427.9 1154.6L1428.6 1151.0L1429.3 1173.4L1430.0 1169.5L1430.7 1174.0L1431.4 1163.4L1432.1 1167.5L1432.8 1145.1L1433.5 1141.6L1434.2 1135.9L1434.9 1126.1L1435.6 1131.5L1436.3 1126.9L1437.0 1126.3L1437.7 1131.5L1438.4 1132.1L1439.1 1137.2L1439.8 1141.6L1440.5 1146.1L1441.2 1177.7L1441.9 1155.7L1442.6 1148.9L1443.3 1173.9L1444.0 1164.4L1444.7 1163.7L1445.4 1161.1L1446.1 1149.2L1446.8 1160.3L1447.5 1148.2L1448.2 1169.2L1448.9 1137.8L1449.6 1137.0L1450.3 1137.7L1451.0 1140.9L1451.7 1163.1L1452.4 1141.6L1453.1 1141.4L1453.8 1136.0L1454.5 1169.5L1455.2 1147.2L1455.9 1162.4L1456.6 1161.6L1457.3 1142.1L1458.0 1148.1L1458.7 1159.1L1459.4 1139.6L1460.1 1158.5L1460.8 1144.5L1461.5 1158.6L1462.2 1162.1L1462.9 1162.4L1463.6 1162.2L1464.3 1147.4L1465.0 1151.5L1465.7 1158.3L1466.4 1160.3L1467.1 1163.8L1467.8 1158.8L1468.5 1161.6L1469.2 1151.2L1469.9 1164.9L1470.6 1151.9L1471.3 1147.4L1472.0 1161.9L1472.7 1145.7L1473.4 1161.3L1474.1 1155.7L1474.8 1150.3L1475.5 1158.9L1476.2 1170.8L1476.9 1166.2L1477.6 1167.4L1478.3 1152.5L1479.0 1151.5L1479.7 1161.9L1480.4 1167.7L1481.1 1156.1L1481.8 1147.7L1482.5 1142.1L1483.2 1142.3L1483.9 1158.6L1484.6 1159.6L1485.3 1171.3L1486.0 1142.1L1486.7 1164.4L1487.4 1172.3L1488.1 1145.7L1488.8 1153.3L1489.5 1169.1L1490.2 1153.4L1490.9 1144.7L1491.6 1151.8L1492.3 1146.9L1493.0 1175.5L1493.7 1163.7L1494.4 1157.4L1495.1 1165.2L1495.8 1160.5L1496.5 1145.2L1497.2 1180.9L1497.9 1169.0L1498.6 1178.0L1499.3 1139.8L1500.0 1175.9L1500.7 1173.5L1501.4 1147.9L1502.1 1163.4L1502.8 1153.7L1503.5 1159.4L1504.2 1180.0L1504.9 1152.7L1505.6 1171.8L1506.3 1175.6L1507.0 1154.2L1507.7 1165.3L1508.4 1174.4L1509.1 1168.9L1509.8 1169.1L1510.5 1145.0L1511.2 1160.9L1511.9 1153.8L1512.6 1153.4L1513.3 1153.5L1514.0 1152.2L1514.7 1154.2L1515.4 1161.0L1516.1 1150.1L1516.8 1145.4L1517.5 1174.4L1518.2 1176.2L1518.9 1168.2L1519.6 1167.1L1520.3 1177.5L1521.0 1150.4L1521.7 1174.8L1522.4 1149.6L1523.1 1148.7L1523.8 1148.5L1524.5 1168.8L1525.2 1168.1L1525.9 1149.9L1526.6 1162.5L1527.3 1155.6L1528.0 1165.5L1528.7 1165.8L1529.4 1173.1L1530.1 1152.7L1530.8 1169.5L1531.5 1163.7L1532.2 1158.5L1532.9 1169.3L1533.6 1155.6L1534.3 1152.3L1535.0 1169.7L1535.7 1158.7L1536.4 1159.6L1537.1 1158.8L1537.8 1159.2L1538.5 1154.0L1539.2 1153.6L1539.9 1167.3L1540.6 1167.5L1541.3 1165.2L1542.0 1149.6L1542.7 1176.4L1543.4 1174.5L1544.1 1165.0L1544.8 1176.3L1545.5 1152.9L1546.2 1173.6L1546.9 1157.6L1547.6 1171.1L1548.3 1176.2L1549.0 1174.2L1549.7 1168.6L1550.4 1170.6L1551.1 1171.1L1551.8 1167.8L1552.5 1150.5L1553.2 1155.6L1553.9 1151.3L1554.6 1176.4L1555.3 1171.5L1556.0 1175.7L1556.7 1162.5L1557.4 1151.5L1558.1 1160.2L1558.8 1160.2L1559.5 1158.2L1560.2 1150.2L1560.9 1142.1L1561.6 1154.8L1562.3 1140.8L1563.0 1151.2L1563.7 1148.6L1564.4 1157.7L1565.1 1146.4L1565.8 1142.5L1566.5 1153.1L1567.2 1170.9L1567.9 1177.2L1568.6 1161.5L1569.3 1145.1L1570.0 1154.7L1570.7 1170.0L1571.4 1160.7L1572.1 1175.7L1572.8 1151.7L1573.5 1175.4L1574.2 1143.6L1574.9 1164.7L1575.6 1164.7L1576.3 1159.8L1577.0 1141.1L1577.7 1147.2L1578.4 1150.1L1579.1 1167.4L1579.8 1157.4L1580.5 1147.8L1581.2 1145.3L1581.9 1145.6L1582.6 1155.3L1583.3 1146.5L1584.0 1153.2L1584.7 1159.8L1585.4 1148.5L1586.1 1143.0L1586.8 1166.4L1587.5 1170.4L1588.2 1160.1L1588.9 1164.3L1589.6 1149.0L1590.3 1158.2L1591.0 1139.9L1591.7 1155.2L1592.4 1166.1L1593.1 1150.5L1593.8 1148.0L1594.5 1148.5L1595.2 1147.1L1595.9 1153.6L1596.6 1153.7L1597.3 1136.8L1598.0 1142.6L1598.7 1148.4L1599.4 1143.6L1600.1 1109.2L1600.8 1135.9L1601.5 1124.2L1602.2 1127.0L1602.9 1123.6L1603.6 1080.3L1604.3 1108.5L1605.0 1093.0L1605.7 1071.9L1606.4 1081.7L1607.1 1079.0L1607.8 1076.5L1608.5 1072.6L1609.2 1073.4L1609.9 1072.2L1610.6 1070.9L1611.3 1085.0L1612.0 1087.1L1612.7 1093.6L1613.4 1091.9L1614.1 1089.8L1614.8 1101.5L1615.5 1101.2L1616.2 1097.6L1616.9 1095.9L1617.6 1106.0L1618.3 1101.3L1619.0 1113.9L1619.7 1112.2L1620.4 1103.4L1621.1 1099.7L1621.8 1112.8L1622.5 1115.7L1623.2 1100.1L1623.9 1097.7L1624.6 1116.4L1625.3 1106.8L1626.0 1107.0L1626.7 1105.1L1627.4 1118.6L1628.1 1138.4L1628.8 1118.2L1629.5 1145.3L1630.2 1132.2L1630.9 1148.2L1631.6 1155.0L1632.3 1143.7L1633.0 1139.8L1633.7 1158.7L1634.4 1144.9L1635.1 1165.7L1635.8 1149.8L1636.5 1151.3L1637.2 1148.3L1637.9 1166.9L1638.6 1153.1L1639.3 1168.4L1640.0 1157.1L1640.7 1157.3L1641.4 1157.7L1642.1 1147.5L1642.8 1158.3L1643.5 1146.3L1644.2 1165.1L1644.9 1146.6L1645.6 1150.4L1646.3 1155.7L1647.0 1151.6L1647.7 1164.5L1648.4 1161.1L1649.1 1163.4L1649.8 1163.2L1650.5 1175.3L1651.2 1182.9L1651.9 1177.9L1652.6 1169.3L1653.3 1146.8L1654.0 1143.7L1654.7 1166.5L1655.4 1155.1L1656.1 1164.1L1656.8 1169.2L1657.5 1164.2L1658.2 1147.6L1658.9 1142.3L1659.6 1173.0L1660.3 1149.5L1661.0 1151.0L1661.7 1168.8L1662.4 1156.7L1663.1 1153.9L1663.8 1170.4L1664.5 1166.5L1665.2 1145.8L1665.9 1144.1L1666.6 1168.4L1667.3 1163.8L1668.0 1145.0L1668.7 1162.0L1669.4 1144.4L1670.1 1146.4L1670.8 1149.6L1671.5 1150.7L1672.2 1149.8L1672.9 1168.7L1673.6 1165.8L1674.3 1152.8L1675.0 1164.6L1675.7 1147.1L1676.4 1170.0L1677.1 1143.5L1677.8 1149.9L1678.5 1145.0L1679.2 1166.6L1679.9 1145.2L1680.6 1166.9L1681.3 1150.7L1682.0 1164.9L1682.7 1170.8L1683.4 1151.6L1684.1 1143.3L1684.8 1169.2L1685.5 1169.5L1686.2 1164.3L1686.9 1154.6L1687.6 1149.3L1688.3 1154.4L1689.0 1149.1L1689.7 1150.0L1690.4 1164.9L1691.1 1169.2L1691.8 1148.9L1692.5 1161.2L1693.2 1153.5L1693.9 1165.0L1694.6 1149.6L1695.3 1170.9L1696.0 1167.0L1696.7 1153.9L1697.4 1171.5L1698.1 1166.9L1698.8 1160.1L1699.5 1157.0L1700.2 1153.0L1700.9 1155.8L1701.6 1157.1L1702.3 1168.8L1703.0 1162.6L1703.7 1150.5L1704.4 1142.9L1705.1 1147.7L1705.8 1162.5L1706.5 1161.9L1707.2 1147.7L1707.9 1166.4L1708.6 1170.7L1709.3 1151.2L1710.0 1150.6L1710.7 1170.4L1711.4 1153.1L1712.1 1163.2L1712.8 1153.9L1713.5 1161.8L1714.2 1154.0L1714.9 1142.5L1715.6 1167.6L1716.3 1163.8L1717.0 1151.5L1717.7 1149.0L1718.4 1152.0L1719.1 1139.3L1719.8 1145.9L1720.5 1149.4L1721.2 1161.3L1721.9 1164.1L1722.6 1168.7L1723.3 1157.2L1724.0 1146.3L1724.7 1153.6L1725.4 1157.7L1726.1 1148.8L1726.8 1141.5L1727.5 1145.7L1728.2 1158.6L1728.9 1145.4L1729.6 1141.2L1730.3 1152.4L1731.0 1164.7L1731.7 1157.7L1732.4 1148.6L1733.1 1166.0L1733.8 1158.1L1734.5 1160.7L1735.2 1153.3L1735.9 1164.5L1736.6 1167.1L1737.3 1170.4L1738.0 1146.8L1738.7 1160.1L1739.4 1146.0L1740.1 1165.9L1740.8 1171.6L1741.5 1144.0L1742.2 1142.1L1742.9 1165.3L1743.6 1171.1L1744.3 1177.0L1745.0 1136.1L1745.7 1140.1L1746.4 1177.4L1747.1 1165.4L1747.8 1158.7L1748.5 1141.3L1749.2 1171.5L1749.9 1168.7L1750.6 1157.5L1751.3 1169.6L1752.0 1158.1L1752.7 1156.8L1753.4 1165.9L1754.1 1157.0L1754.8 1161.4L1755.5 1135.8L1756.2 1140.7L1756.9 1159.6L1757.6 1144.8L1758.3 1164.3L1759.0 1162.3L1759.7 1155.7L1760.4 1137.1L1761.1 1145.1L1761.8 1142.9L1762.5 1146.7L1763.2 1168.0L1763.9 1142.8L1764.6 1145.3L1765.3 1163.1L1766.0 1163.7L1766.7 1137.6L1767.4 1160.1L1768.1 1141.1L1768.8 1164.6L1769.5 1150.7L1770.2 1144.7L1770.9 1137.0L1771.6 1136.5L1772.3 1140.6L1773.0 1160.7L1773.7 1146.9L1774.4 1151.2L1775.1 1168.4L1775.8 1149.0L1776.5 1141.7L1777.2 1164.8L1777.9 1150.5L1778.6 1141.5L1779.3 1153.6L1780.0 1154.2L1780.7 1141.7L1781.4 1137.8L1782.1 1161.7L1782.8 1154.4L1783.5 1145.3L1784.2 1134.1L1784.9 1159.1L1785.6 1158.7L1786.3 1143.6L1787.0 1166.6L1787.7 1138.7L1788.4 1150.6L1789.1 1141.0L1789.8 1132.4L1790.5 1167.0L1791.2 1144.4L1791.9 1147.0L1792.6 1140.1L1793.3 1133.3L1794.0 1151.5L1794.7 1148.4L1795.4 1141.9L1796.1 1140.6L1796.8 1161.0L1797.5 1167.1L1798.2 1162.7L1798.9 1162.5L1799.6 1137.3L1800.3 1169.0L1801.0 1143.6L1801.7 1158.5L1802.4 1145.4L1803.1 1142.9L1803.8 1165.5L1804.5 1138.6L1805.2 1137.5L1805.9 1134.2L1806.6 1161.9L1807.3 1134.2L1808.0 1149.0L1808.7 1156.2L1809.4 1135.8L1810.1 1139.6L1810.8 1156.2L1811.5 1141.3L1812.2 1137.4L1812.9 1139.3L1813.6 1153.1L1814.3 1143.5L1815.0 1142.4L1815.7 1140.9L1816.4 1141.2L1817.1 1147.9L1817.8 1145.3L1818.5 1161.0L1819.2 1151.0L1819.9 1154.9L1820.6 1146.3L1821.3 1139.8L1822.0 1134.9L1822.7 1134.3L1823.4 1155.5L1824.1 1125.0L1824.8 1150.1L1825.5 1137.2L1826.2 1142.2L1826.9 1116.2L1827.6 1146.2L1828.3 1140.4L1829.0 1155.3L1829.7 1149.5L1830.4 1144.3L1831.1 1107.9L1831.8 1134.8L1832.5 1100.3L1833.2 1129.3L1833.9 1137.8L1834.6 1095.8L1835.3 1104.1L1836.0 1116.3L1836.7 1120.2L1837.4 1073.4L1838.1 1103.8L1838.8 1071.9L1839.5 1104.7L1840.2 1062.2L1840.9 1063.2L1841.6 1062.4L1842.3 1056.5L1843.0 1052.9L1843.7 1059.5L1844.4 1063.5L1845.1 1055.3L1845.8 1055.3L1846.5 1059.4L1847.2 1059.4L1847.9 1060.1L1848.6 1066.8L1849.3 1064.5L1850.0 1078.3L1850.7 1084.4L1851.4 1086.0L1852.1 1065.6L1852.8 1092.5L1853.5 1088.5L1854.2 1089.0L1854.9 1109.8L1855.6 1114.1L1856.3 1092.6L1857.0 1103.5L1857.7 1099.2L1858.4 1120.5L1859.1 1106.2L1859.8 1135.5L1860.5 1121.3L1861.2 1113.3L1861.9 1131.8L1862.6 1129.6L1863.3 1143.5L1864.0 1133.2L1864.7 1129.8L1865.4 1114.9L1866.1 1116.9L1866.8 1099.6L1867.5 1098.6L1868.2 1114.3L1868.9 1091.0L1869.6 1119.8L1870.3 1096.9L1871.0 1124.6L1871.7 1095.0L1872.4 1118.7L1873.1 1104.3L1873.8 1107.0L1874.5 1114.2L1875.2 1123.2L1875.9 1147.8L1876.6 1152.5L1877.3 1129.5L1878.0 1122.5L1878.7 1152.9L1879.4 1147.1L1880.1 1133.3L1880.8 1137.3L1881.5 1141.1L1882.2 1148.4L1882.9 1149.1L1883.6 1132.5L1884.3 1146.1L1885.0 1160.9L1885.7 1132.4L1886.4 1145.8L1887.1 1135.9L1887.8 1139.2L1888.5 1150.4L1889.2 1156.0L1889.9 1144.4L1890.6 1138.8L1891.3 1162.5L1892.0 1167.0L1892.7 1157.9L1893.4 1141.3L1894.1 1150.3L1894.8 1145.9L1895.5 1166.7L1896.2 1158.9L1896.9 1153.0L1897.6 1164.0L1898.3 1126.8L1899.0 1140.0L1899.7 1133.2L1900.4 1148.3L1901.1 1144.3L1901.8 1128.3L1902.5 1132.8L1903.2 1151.7L1903.9 1145.0L1904.6 1142.6L1905.3 1153.1L1906.0 1157.4L1906.7 1133.7L1907.4 1130.5L1908.1 1162.9L1908.8 1166.3L1909.5 1158.1L1910.2 1139.8L1910.9 1144.3L1911.6 1134.3L1912.3 1149.2L1913.0 1147.1L1913.7 1150.1L1914.4 1158.7L1915.1 1156.8L1915.8 1137.9L1916.5 1132.9L1917.2 1152.4L1917.9 1133.4L1918.6 1148.2L1919.3 1134.8L1920.0 1150.3L1920.7 1166.7L1921.4 1151.0L1922.1 1147.4L1922.8 1159.1L1923.5 1142.0L1924.2 1145.3L1924.9 1166.1L1925.6 1138.2L1926.3 1161.3L1927.0 1132.7L1927.7 1165.9L1928.4 1136.7L1929.1 1154.0L1929.8 1135.4L1930.5 1158.6L1931.2 1165.2L1931.9 1167.5L1932.6 1162.1L1933.3 1159.4L1934.0 1143.8L1934.7 1138.8L1935.4 1157.4L1936.1 1147.4L1936.8 1149.4L1937.5 1136.5L1938.2 1139.2L1938.9 1148.6L1939.6 1146.7L1940.3 1165.0L1941.0 1145.4L1941.7 1159.7L1942.4 1155.0L1943.1 1151.5L1943.8 1151.5L1944.5 1161.2L1945.2 1145.7L1945.9 1155.3L1946.6 1159.3L1947.3 1160.3L1948.0 1165.5L1948.7 1156.6L1949.4 1161.5L1950.1 1160.8L1950.8 1140.7L1951.5 1161.2L1952.2 1138.3L1952.9 1142.8L1953.6 1132.8L1954.3 1162.9L1955.0 1166.7L1955.7 1135.5L1956.4 1143.0L1957.1 1154.7L1957.8 1135.8L1958.5 1148.6L1959.2 1143.9L1959.9 1132.7L1960.6 1155.8L1961.3 1150.3L1962.0 1161.3L1962.7 1143.1L1963.4 1143.5L1964.1 1157.9L1964.8 1164.9L1965.5 1140.7L1966.2 1141.8L1966.9 1134.4L1967.6 1160.0L1968.3 1135.3L1969.0 1158.7L1969.7 1142.9L1970.4 1133.0L1971.1 1133.9L1971.8 1146.9L1972.5 1166.0L1973.2 1140.4L1973.9 1151.1L1974.6 1138.3L1975.3 1164.7L1976.0 1144.2L1976.7 1144.2L1977.4 1157.9L1978.1 1151.7L1978.8 1139.0L1979.5 1143.1L1980.2 1161.7L1980.9 1133.9L1981.6 1154.8L1982.3 1136.5L1983.0 1144.3L1983.7 1141.2L1984.4 1162.2L1985.1 1166.1L1985.8 1160.2L1986.5 1156.2L1987.2 1145.2L1987.9 1166.0L1988.6 1164.4L1989.3 1145.2L1990.0 1152.2L1990.7 1148.5L1991.4 1139.6L1992.1 1158.3L1992.8 1161.0L1993.5 1140.7L1994.2 1140.2L1994.9 1163.5L1995.6 1161.8L1996.3 1138.8L1997.0 1161.1L1997.7 1141.7L1998.4 1164.2L1999.1 1145.4L1999.8 1157.7L2000.5 1140.5L2001.2 1143.9L2001.9 1157.3L2002.6 1155.6L2003.3 1160.8L2004.0 1160.2L2004.7 1154.1L2005.4 1140.8L2006.1 1156.2L2006.8 1160.2L2007.5 1156.6L2008.2 1139.3L2008.9 1135.0L2009.6 1136.7L2010.3 1134.5L2011.0 1137.2L2011.7 1162.8L2012.4 1136.2L2013.1 1141.4L2013.8 1157.0L2014.5 1142.0L2015.2 1144.0L2015.9 1155.5L2016.6 1140.8L2017.3 1145.1L2018.0 1155.1L2018.7 1153.6L2019.4 1156.6L2020.1 1152.0L2020.8 1154.0L2021.5 1156.6L2022.2 1157.1L2022.9 1138.2L2023.6 1157.5L2024.3 1153.5L2025.0 1138.3L2025.7 1143.4L2026.4 1154.7L2027.1 1155.6L2027.8 1147.4L2028.5 1156.2L2029.2 1157.5L2029.9 1134.0L2030.6 1152.9L2031.3 1137.5L2032.0 1143.8L2032.7 1157.1L2033.4 1162.7L2034.1 1162.3L2034.8 1131.2L2035.5 1142.1L2036.2 1152.9L2036.9 1141.1L2037.6 1156.7L2038.3 1144.2L2039.0 1138.2L2039.7 1145.0L2040.4 1139.5L2041.1 1139.0L2041.8 1143.0L2042.5 1134.9L2043.2 1155.8L2043.9 1144.4L2044.6 1144.7L2045.3 1142.8L2046.0 1162.7L2046.7 1159.5L2047.4 1132.2L2048.1 1160.0L2048.8 1163.2L2049.5 1153.2L2050.2 1144.0L2050.9 1165.3L2051.6 1144.2L2052.3 1165.0L2053.0 1161.8L2053.7 1142.6L2054.4 1151.9L2055.1 1144.3L2055.8 1156.0L2056.5 1143.3L2057.2 1160.1L2057.9 1149.7L2058.6 1140.8L2059.3 1139.1L2060.0 1137.8L2060.7 1138.3L2061.4 1162.7L2062.1 1137.8L2062.8 1160.2L2063.5 1165.9L2064.2 1161.3L2064.9 1134.3L2065.6 1154.8L2066.3 1142.6L2067.0 1156.8L2067.7 1173.1L2068.4 1135.2L2069.1 1159.0L2069.8 1124.9L2070.5 1164.4L2071.2 1133.4L2071.9 1140.5L2072.6 1165.9L2073.3 1165.1L2074.0 1144.9L2074.7 1159.8L2075.4 1159.9L2076.1 1137.9L2076.8 1140.2L2077.5 1141.0L2078.2 1150.8L2078.9 1165.9L2079.6 1162.1L2080.3 1144.7L2081.0 1139.9L2081.7 1150.3L2082.4 1150.8L2083.1 1134.0L2083.8 1168.7L2084.5 1145.0L2085.2 1167.1L2085.9 1160.0L2086.6 1146.9L2087.3 1168.3L2088.0 1147.0L2088.7 1148.6L2089.4 1175.4L2090.1 1152.2L2090.8 1177.4L2091.5 1161.0L2092.2 1149.5L2092.9 1148.8L2093.6 1165.9L2094.3 1139.5L2095.0 1146.8L2095.7 1164.8L2096.4 1140.1L2097.1 1162.6L2097.8 1158.0L2098.5 1136.1L2099.2 1155.2L2099.9 1141.0L2100.6 1140.5L2101.3 1161.1L2102.0 1158.3L2102.7 1133.8L2103.4 1162.1L2104.1 1161.2L2104.8 1165.7L2105.5 1142.6L2106.2 1153.8L2106.9 1158.4L2107.6 1161.1L2108.3 1157.5L2109.0 1125.7L2109.7 1132.3L2110.4 1154.3L2111.1 1168.1L2111.8 1162.9L2112.5 1154.9L2113.2 1161.2L2113.9 1155.3L2114.6 1148.8L2115.3 1130.7L2116.0 1153.5L2116.7 1141.7L2117.4 1138.7L2118.1 1155.1L2118.8 1141.3L2119.5 1158.1L2120.2 1155.3L2120.9 1152.3L2121.6 1139.3L2122.3 1156.1L2123.0 1161.9L2123.7 1136.5L2124.4 1163.5L2125.1 1131.1L2125.8 1167.2L2126.5 1140.6L2127.2 1155.2L2127.9 1143.8L2128.6 1157.2L2129.3 1131.2L2130.0 1157.5L2130.7 1157.7L2131.4 1145.2L2132.1 1144.2L2132.8 1144.7L2133.5 1160.3L2134.2 1155.6L2134.9 1141.9L2135.6 1160.8L2136.3 1144.8L2137.0 1138.2L2137.7 1137.2L2138.4 1140.7L2139.1 1137.6L2139.8 1161.9L2140.5 1137.9L2141.2 1139.3L2141.9 1151.3L2142.6 1136.9L2143.3 1136.2L2144.0 1131.4L2144.7 1150.2L2145.4 1137.2L2146.1 1160.5L2146.8 1156.9L2147.5 1148.0L2148.2 1155.7L2148.9 1147.7L2149.6 1141.3L2150.3 1147.1L2151.0 1156.9L2151.7 1144.3L2152.4 1142.9L2153.1 1136.5L2153.8 1150.6L2154.5 1156.8L2155.2 1149.1L2155.9 1154.4L2156.6 1158.1L2157.3 1135.0L2158.0 1158.1L2158.7 1151.9L2159.4 1138.0L2160.1 1140.0L2160.8 1158.7L2161.5 1157.6L2162.2 1153.6L2162.9 1155.3L2163.6 1155.4L2164.3 1132.6L2165.0 1141.6L2165.7 1133.1L2166.4 1157.6L2167.1 1134.1L2167.8 1164.5L2168.5 1158.3L2169.2 1143.8L2169.9 1174.1L2170.6 1164.0L2171.3 1158.1L2172.0 1141.7L2172.7 1140.2L2173.4 1157.7L2174.1 1139.5L2174.8 1134.4L2175.5 1134.8L2176.2 1157.0L2176.9 1147.6L2177.6 1145.9L2178.3 1157.7L2179.0 1158.8L2179.7 1128.6L2180.4 1137.3L2181.1 1154.8L2181.8 1143.7L2182.5 1144.8L2183.2 1134.4L2183.9 1148.9L2184.6 1150.1L2185.3 1146.0L2186.0 1151.7L2186.7 1141.6L2187.4 1153.5L2188.1 1150.2L2188.8 1155.4L2189.5 1149.2L2190.2 1142.7L2190.9 1135.6L2191.6 1148.4L2192.3 1128.6L2193.0 1133.4L2193.7 1141.0L2194.4 1155.5L2195.1 1158.4L2195.8 1160.8L2196.5 1144.6L2197.2 1159.3L2197.9 1139.3L2198.6 1135.4L2199.3 1152.7L2200.0 1131.1L2200.7 1158.7L2201.4 1139.6L2202.1 1156.7L2202.8 1134.4L2203.5 1154.5L2204.2 1149.9L2204.9 1155.8L2205.6 1142.7L2206.3 1140.3L2207.0 1140.1L2207.7 1131.5L2208.4 1146.7L2209.1 1160.7L2209.8 1140.2L2210.5 1140.4L2211.2 1125.4L2211.9 1135.8L2212.6 1126.3L2213.3 1143.4L2214.0 1151.4L2214.7 1154.5L2215.4 1153.2L2216.1 1144.8L2216.8 1154.8L2217.5 1149.4L2218.2 1152.0L2218.9 1129.0L2219.6 1136.9L2220.3 1146.7L2221.0 1135.5L2221.7 1128.5L2222.4 1140.9L2223.1 1155.3L2223.8 1151.7L2224.5 1127.6L2225.2 1134.8L2225.9 1122.3L2226.6 1134.1L2227.3 1135.8L2228.0 1128.1L2228.7 1149.1L2229.4 1122.0L2230.1 1123.8L2230.8 1145.3L2231.5 1141.7L2232.2 1131.5L2232.9 1143.9L2233.6 1128.2L2234.3 1144.6L2235.0 1150.1L2235.7 1150.6L2236.4 1148.4L2237.1 1142.7L2237.8 1149.8L2238.5 1130.5L2239.2 1152.2L2239.9 1144.3L2240.6 1137.8L2241.3 1153.1L2242.0 1146.4L2242.7 1145.7L2243.4 1137.0L2244.1 1128.3L2244.8 1133.3L2245.5 1140.3L2246.2 1128.4L2246.9 1130.6L2247.6 1148.3L2248.3 1135.1L2249.0 1142.5L2249.7 1151.3L2250.4 1150.7L2251.1 1144.1L2251.8 1147.1L2252.5 1134.3L2253.2 1129.5L2253.9 1126.3L2254.6 1146.6L2255.3 1125.5L2256.0 1138.0L2256.7 1122.8L2257.4 1151.8L2258.1 1132.1L2258.8 1134.9L2259.5 1152.7L2260.2 1132.2L2260.9 1129.2L2261.6 1137.6L2262.3 1137.7L2263.0 1158.4L2263.7 1127.1L2264.4 1134.2L2265.1 1150.3L2265.8 1141.6L2266.5 1129.9L2267.2 1144.7L2267.9 1154.5L2268.6 1158.8L2269.3 1135.5L2270.0 1138.9L2270.7 1137.3L2271.4 1153.6L2272.1 1152.9L2272.8 1153.2L2273.5 1154.9L2274.2 1157.4L2274.9 1154.0L2275.6 1136.4L2276.3 1132.6L2277.0 1133.1L2277.7 1131.6L2278.4 1158.6L2279.1 1153.2L2279.8 1135.9L2280.5 1155.0L2281.2 1142.5L2281.9 1150.6L2282.6 1145.0L2283.3 1155.4L2284.0 1147.9L2284.7 1135.8L2285.4 1151.3L2286.1 1132.6L2286.8 1150.0L2287.5 1144.1L2288.2 1137.3L2288.9 1140.6L2289.6 1154.4L2290.3 1152.5L2291.0 1126.7L2291.7 1136.0L2292.4 1156.4L2293.1 1153.3L2293.8 1156.3L2294.5 1133.5L2295.2 1156.4L2295.9 1159.3L2296.6 1124.3L2297.3 1152.8L2298.0 1132.4L2298.7 1126.5L2299.4 1151.9L2300.1 1146.7L2300.8 1136.2L2301.5 1154.7L2302.2 1155.6L2302.9 1152.8L2303.6 1150.3L2304.3 1116.5L2305.0 1118.3L2305.7 1132.5L2306.4 1127.6L2307.1 1119.3L2307.8 1147.4L2308.5 1145.8L2309.2 1154.3L2309.9 1154.0L2310.6 1148.4L2311.3 1145.5L2312.0 1133.5L2312.7 1124.8L2313.4 1139.8L2314.1 1152.4L2314.8 1127.0L2315.5 1141.2L2316.2 1135.0L2316.9 1146.5L2317.6 1140.7L2318.3 1123.4L2319.0 1137.2L2319.7 1136.0L2320.4 1134.0L2321.1 1144.3L2321.8 1128.0L2322.5 1140.9L2323.2 1130.4L2323.9 1131.6L2324.6 1131.4L2325.3 1139.8L2326.0 1121.1L2326.7 1142.3L2327.4 1125.3L2328.1 1142.8L2328.8 1143.4L2329.5 1123.9L2330.2 1146.0L2330.9 1125.3L2331.6 1132.7L2332.3 1132.8L2333.0 1121.4L2333.7 1150.5L2334.4 1116.4L2335.1 1119.7L2335.8 1134.8L2336.5 1142.1L2337.2 1134.4L2337.9 1150.0L2338.6 1134.5L2339.3 1151.3L2340.0 1119.2L2340.7 1138.7L2341.4 1131.2L2342.1 1127.8L2342.8 1127.3L2343.5 1144.0L2344.2 1115.9L2344.9 1124.1L2345.6 1136.8L2346.3 1128.8L2347.0 1126.2L2347.7 1145.0L2348.4 1140.9L2349.1 1144.4L2349.8 1138.9L2350.5 1127.3L2351.2 1140.4L2351.9 1142.8L2352.6 1130.1L2353.3 1136.0L2354.0 1140.2L2354.7 1133.3L2355.4 1130.2L2356.1 1139.0L2356.8 1146.8L2357.5 1142.7L2358.2 1124.4L2358.9 1143.6L2359.6 1123.4L2360.3 1141.5L2361.0 1138.3L2361.7 1136.8L2362.4 1141.4L2363.1 1141.5L2363.8 1125.9L2364.5 1148.1L2365.2 1116.8L2365.9 1122.7L2366.6 1137.1L2367.3 1138.5L2368.0 1123.2L2368.7 1140.4L2369.4 1139.2L2370.1 1125.2L2370.8 1134.2L2371.5 1145.8"/>
<path stroke="#cd0000" stroke-width="13.5" d="M205.0 901.4L205.7 955.1L206.4 926.5L207.1 950.6L207.8 964.1L208.5 936.6L209.2 933.0L209.9 906.4L210.6 916.7L211.3 932.8L212.0 945.2L212.7 951.2L213.4 924.5L214.1 907.2L214.8 917.9L215.5 957.0L216.2 915.2L216.9 928.6L217.6 956.7L218.3 906.4L219.0 939.6L219.7 956.6L220.4 916.1L221.1 937.1L221.8 955.3L222.5 911.5L223.2 935.3L223.9 946.9L224.6 942.3L225.3 930.3L226.0 917.5L226.7 931.8L227.4 925.4L228.1 931.1L228.8 925.6L229.5 947.5L230.2 943.7L230.9 924.3L231.6 937.1L232.3 922.1L233.0 930.0L233.7 925.0L234.4 941.1L235.1 924.5L235.8 929.6L236.5 944.9L237.2 926.5L237.9 955.5L238.6 912.2L239.3 949.3L240.0 925.8L240.7 926.0L241.4 943.2L242.1 935.4L242.8 925.2L243.5 902.1L244.2 906.3L244.9 946.1L245.6 935.2L246.3 945.9L247.0 958.6L247.7 945.7L248.4 908.8L249.1 920.7L249.8 939.1L250.5 916.7L251.2 959.7L251.9 959.0L252.6 955.9L253.3 929.6L254.0 955.2L254.7 906.4L255.4 916.6L256.1 928.3L256.8 952.8L257.5 930.7L258.2 904.6L258.9 919.3L259.6 918.3L260.3 917.1L261.0 911.4L261.7 926.2L262.4 928.9L263.1 947.2L263.8 948.9L264.5 934.6L265.2 929.8L265.9 946.1L266.6 951.2L267.3 942.4L268.0 947.8L268.7 954.6L269.4 908.7L270.1 952.9L270.8 918.1L271.5 930.1L272.2 954.1L272.9 949.3L273.6 908.0L274.3 946.2L275.0 903.8L275.7 920.5L276.4 955.4L277.1 925.6L277.8 942.3L278.5 951.1L279.2 957.2L279.9 953.2L280.6 900.9L281.3 925.6L282.0 928.8L282.7 903.8L283.4 936.5L284.1 940.7L284.8 952.5L285.5 955.6L286.2 911.5L286.9 916.4L287.6 943.4L288.3 911.7L289.0 915.8L289.7 938.8L290.4 910.7L291.1 952.4L291.8 955.3L292.5 904.5L293.2 936.4L293.9 954.0L294.6 963.8L295.3 914.7L296.0 910.0L296.7 956.9L297.4 956.4L298.1 913.3L298.8 927.4L299.5 946.5L300.2 952.0L300.9 914.0L301.6 943.0L302.3 950.3L303.0 936.8L303.7 911.0L304.4 904.7L305.1 918.1L305.8 951.7L306.5 909.4L307.2 904.3L307.9 922.6L308.6 907.9L309.3 910.6L310.0 905.3L310.7 935.2L311.4 946.2L312.1 926.8L312.8 911.8L313.5 922.9L314.2 938.9L314.9 954.9L315.6 957.8L316.3 916.3L317.0 909.0L317.7 949.9L318.4 953.4L319.1 929.4L319.8 947.3L320.5 950.8L321.2 939.9L321.9 952.1L322.6 909.2L323.3 918.1L324.0 920.2L324.7 913.3L325.4 951.4L326.1 911.7L326.8 941.8L327.5 914.0L328.2 925.0L328.9 927.6L329.6 919.1L330.3 934.1L331.0 934.9L331.7 922.9L332.4 943.6L333.1 919.3L333.8 917.8L334.5 923.4L335.2 924.2L335.9 915.8L336.6 957.0L337.3 953.0L338.0 907.1L338.7 922.1L339.4 912.7L340.1 927.5L340.8 915.8L341.5 932.7L342.2 961.0L342.9 918.2L343.6 943.8L344.3 939.9L345.0 948.7L345.7 908.0L346.4 946.7L347.1 955.5L347.8 939.0L348.5 918.8L349.2 943.1L349.9 945.1L350.6 941.2L351.3 915.6L352.0 951.5L352.7 951.1L353.4 927.5L354.1 937.7L354.8 911.7L355.5 957.1L356.2 949.8L356.9 941.2L357.6 946.8L358.3 916.4L359.0 920.8L359.7 918.4L360.4 937.8L361.1 912.7L361.8 953.8L362.5 928.6L363.2 927.5L363.9 911.0L364.6 943.5L365.3 949.2L366.0 940.3L366.7 918.4L367.4 946.7L368.1 915.5L368.8 947.0L369.5 937.2L370.2 917.4L370.9 933.3L371.6 940.0L372.3 918.8L373.0 949.7L373.7 925.9L374.4 951.7L375.1 949.3L375.8 912.0L376.5 939.9L377.2 920.3L377.9 945.8L378.6 935.7L379.3 931.5L380.0 958.5L380.7 932.5L381.4 956.2L382.1 943.0L382.8 931.4L383.5 960.8L384.2 942.9L384.9 948.3L385.6 936.3L386.3 922.7L387.0 948.3L387.7 915.1L388.4 911.4L389.1 942.4L389.8 922.7L390.5 921.6L391.2 949.9L391.9 919.4L392.6 950.5L393.3 939.4L394.0 919.1L394.7 905.4L395.4 913.0L396.1 957.9L396.8 921.7L397.5 909.4L398.2 918.7L398.9 949.6L399.6 911.4L400.3 944.1L401.0 911.0L401.7 949.1L402.4 931.0L403.1 908.9L403.8 947.6L404.5 919.3L405.2 939.6L405.9 929.4L406.6 905.7L407.3 901.4L408.0 899.2L408.7 895.9L409.4 880.4L410.1 875.7L410.8 948.4L411.5 875.9L412.2 924.9L412.9 872.6L413.6 885.1L414.3 934.2L415.0 940.9L415.7 915.1L416.4 872.5L417.1 935.9L417.8 868.5L418.5 897.8L419.2 913.5L419.9 925.5L420.6 920.3L421.3 908.1L422.0 880.4L422.7 908.4L423.4 903.9L424.1 898.2L424.8 884.0L425.5 812.5L426.2 828.5L426.9 842.7L427.6 836.3L428.3 844.7L429.0 796.0L429.7 813.3L430.4 785.0L431.1 793.4L431.8 762.3L432.5 763.3L433.2 749.4L433.9 748.5L434.6 754.3L435.3 748.1L436.0 757.0L436.7 757.5L437.4 753.3L438.1 781.5L438.8 764.8L439.5 806.0L440.2 776.4L440.9 823.8L441.6 799.2L442.3 818.8L443.0 868.3L443.7 850.5L444.4 873.7L445.1 887.2L445.8 819.3L446.5 906.9L447.2 917.8L447.9 842.9L448.6 905.0L449.3 865.5L450.0 924.6L450.7 840.9L451.4 914.3L452.1 931.6L452.8 929.9L453.5 872.9L454.2 936.1L454.9 891.3L455.6 936.4L456.3 921.6L457.0 887.4L457.7 936.0L458.4 939.2L459.1 934.6L459.8 944.5L460.5 896.1L461.2 892.1L461.9 878.2L462.6 929.9L463.3 909.7L464.0 905.1L464.7 918.8L465.4 899.8L466.1 882.5L466.8 924.2L467.5 911.0L468.2 923.7L468.9 954.4L469.6 907.5L470.3 939.4L471.0 940.2L471.7 914.4L472.4 926.2L473.1 955.5L473.8 918.9L474.5 941.5L475.2 948.7L475.9 920.1L476.6 956.5L477.3 938.8L478.0 930.2L478.7 944.9L479.4 924.3L480.1 944.0L480.8 917.1L481.5 951.5L482.2 933.8L482.9 915.2L483.6 925.9L484.3 950.9L485.0 947.0L485.7 929.4L486.4 922.7L487.1 924.2L487.8 950.6L488.5 914.6L489.2 947.3L489.9 947.3L490.6 916.9L491.3 922.0L492.0 936.1L492.7 947.6L493.4 955.4L494.1 957.1L494.8 917.4L495.5 913.4L496.2 929.9L496.9 936.1L497.6 941.4L498.3 912.1L499.0 940.7L499.7 950.9L500.4 953.1L501.1 953.4L501.8 951.5L502.5 949.8L503.2 913.1L503.9 948.3L504.6 920.9L505.3 922.0L506.0 928.7L506.7 952.9L507.4 938.8L508.1 921.9L508.8 923.3L509.5 951.1L510.2 945.6L510.9 914.2L511.6 919.1L512.3 923.3L513.0 916.7L513.7 936.4L514.4 916.4L515.1 937.0L515.8 954.7L516.5 950.5L517.2 910.7L517.9 916.1L518.6 925.8L519.3 942.0L520.0 923.5L520.7 918.2L521.4 922.4L522.1 916.5L522.8 950.6L523.5 942.5L524.2 926.0L524.9 942.8L525.6 933.3L526.3 933.6L527.0 925.3L527.7 930.8L528.4 949.4L529.1 943.7L529.8 948.3L530.5 913.7L531.2 932.2L531.9 924.1L532.6 912.7L533.3 925.4L534.0 912.4L534.7 917.9L535.4 946.4L536.1 941.6L536.8 943.3L537.5 908.1L538.2 913.3L538.9 905.9L539.6 912.5L540.3 910.3L541.0 955.7L541.7 953.3L542.4 915.2L543.1 916.4L543.8 955.8L544.5 936.4L545.2 923.6L545.9 928.9L546.6 921.3L547.3 936.2L548.0 942.3L548.7 932.7L549.4 946.4L550.1 914.3L550.8 937.9L551.5 953.4L552.2 914.7L552.9 931.0L553.6 938.3L554.3 923.0L555.0 949.2L555.7 930.3L556.4 929.6L557.1 950.6L557.8 907.1L558.5 950.1L559.2 914.8L559.9 924.7L560.6 930.4L561.3 929.7L562.0 911.7L562.7 920.9L563.4 922.9L564.1 953.2L564.8 953.9L565.5 937.6L566.2 955.0L566.9 951.0L567.6 921.0L568.3 911.2L569.0 939.5L569.7 918.9L570.4 904.2L571.1 957.4L571.8 955.7L572.5 934.2L573.2 939.3L573.9 942.3L574.6 954.2L575.3 928.1L576.0 936.0L576.7 916.0L577.4 915.1L578.1 932.9L578.8 916.7L579.5 906.8L580.2 921.5L580.9 947.1L581.6 915.2L582.3 952.9L583.0 944.6L583.7 940.7L584.4 952.4L585.1 906.5L585.8 911.2L586.5 952.2L587.2 952.3L587.9 909.3L588.6 944.8L589.3 909.4L590.0 913.6L590.7 911.7L591.4 919.2L592.1 923.2L592.8 947.8L593.5 925.3L594.2 910.1L594.9 916.6L595.6 904.1L596.3 905.8L597.0 924.5L597.7 930.7L598.4 913.3L599.1 919.8L599.8 904.8L600.5 939.6L601.2 921.5L601.9 910.6L602.6 928.4L603.3 911.7L604.0 915.4L604.7 906.2L605.4 946.9L606.1 911.8L606.8 955.8L607.5 919.9L608.2 907.4L608.9 940.2L609.6 940.5L610.3 946.9L611.0 899.9L611.7 941.4L612.4 942.9L613.1 906.0L613.8 914.4L614.5 925.6L615.2 902.2L615.9 935.3L616.6 927.3L617.3 934.5L618.0 910.5L618.7 916.4L619.4 895.6L620.1 902.1L620.8 926.5L621.5 937.0L622.2 895.3L622.9 894.1L623.6 893.5L624.3 908.2L625.0 925.6L625.7 898.8L626.4 909.4L627.1 911.9L627.8 924.8L628.5 896.7L629.2 893.6L629.9 909.5L630.6 901.3L631.3 898.2L632.0 920.5L632.7 917.7L633.4 885.9L634.1 909.1L634.8 919.8L635.5 923.8L636.2 881.1L636.9 917.1L637.6 879.7L638.3 910.0L639.0 904.4L639.7 916.3L640.4 902.9L641.1 876.2L641.8 900.1L642.5 878.1L643.2 902.8L643.9 865.2L644.6 871.4L645.3 886.5L646.0 855.7L646.7 875.8L647.4 871.5L648.1 866.7L648.8 865.2L649.5 828.8L650.2 803.1L650.9 795.2L651.6 787.3L652.3 752.9L653.0 775.9L653.7 712.6L654.4 690.0L655.1 719.7L655.8 688.8L656.5 620.6L657.2 595.8L657.9 599.0L658.6 556.3L659.3 499.3L660.0 481.2L660.7 474.3L661.4 411.9L662.1 421.0L662.8 391.6L663.5 373.4L664.2 374.1L664.9 367.8L665.6 377.5L666.3 393.7L667.0 404.9L667.7 445.1L668.4 467.6L669.1 478.5L669.8 506.6L670.5 537.1L671.2 586.1L671.9 601.1L672.6 644.9L673.3 684.9L674.0 711.4L674.7 708.6L675.4 736.5L676.1 759.2L676.8 776.0L677.5 793.7L678.2 810.2L678.9 837.0L679.6 827.9L680.3 837.9L681.0 848.5L681.7 846.0L682.4 874.4L683.1 867.5L683.8 894.2L684.5 896.2L685.2 869.4L685.9 872.0L686.6 900.3L687.3 892.3L688.0 868.5L688.7 901.0L689.4 885.8L690.1 907.2L690.8 906.5L691.5 916.8L692.2 906.5L692.9 911.4L693.6 882.9L694.3 894.7L695.0 873.9L695.7 917.0L696.4 872.4L697.1 904.4L697.8 901.7L698.5 913.7L699.2 897.0L699.9 872.5L700.6 887.5L701.3 873.1L702.0 891.0L702.7 917.5L703.4 871.6L704.1 930.9L704.8 905.5L705.5 887.5L706.2 930.7L706.9 874.5L707.6 887.5L708.3 934.5L709.0 888.2L709.7 914.7L710.4 885.3L711.1 903.4L711.8 920.1L712.5 892.7L713.2 893.4L713.9 909.8L714.6 909.0L715.3 882.9L716.0 904.8L716.7 930.0L717.4 892.5L718.1 914.5L718.8 889.8L719.5 902.9L720.2 901.1L720.9 909.9L721.6 916.0L722.3 906.5L723.0 904.8L723.7 916.6L724.4 921.5L725.1 898.0L725.8 921.2L726.5 903.5L727.2 879.4L727.9 883.7L728.6 908.3L729.3 894.3L730.0 875.9L730.7 894.1L731.4 873.9L732.1 882.5L732.8 893.9L733.5 900.6L734.2 885.2L734.9 886.9L735.6 894.6L736.3 919.7L737.0 899.2L737.7 881.7L738.4 906.7L739.1 901.6L739.8 904.4L740.5 887.5L741.2 906.6L741.9 882.7L742.6 881.6L743.3 885.1L744.0 916.3L744.7 916.6L745.4 902.8L746.1 917.9L746.8 888.9L747.5 903.1L748.2 900.3L748.9 904.0L749.6 894.8L750.3 924.3L751.0 927.3L751.7 927.0L752.4 934.7L753.1 912.3L753.8 942.6L754.5 924.3L755.2 943.9L755.9 909.6L756.6 931.6L757.3 900.3L758.0 898.3L758.7 936.7L759.4 910.9L760.1 897.2L760.8 925.0L761.5 936.1L762.2 930.7L762.9 936.8L763.6 933.2L764.3 916.4L765.0 909.3L765.7 904.0L766.4 910.8L767.1 926.6L767.8 936.3L768.5 903.9L769.2 934.6L769.9 932.6L770.6 931.4L771.3 908.9L772.0 907.7L772.7 937.3L773.4 933.8L774.1 919.7L774.8 919.3L775.5 911.3L776.2 947.8L776.9 942.8L777.6 950.6L778.3 946.0L779.0 927.6L779.7 949.6L780.4 915.1L781.1 940.8L781.8 918.2L782.5 925.2L783.2 949.7L783.9 926.8L784.6 951.0L785.3 938.7L786.0 920.9L786.7 918.4L787.4 907.2L788.1 937.5L788.8 951.6L789.5 915.5L790.2 930.0L790.9 961.1L791.6 923.6L792.3 958.0L793.0 953.3L793.7 931.5L794.4 942.4L795.1 903.8L795.8 934.5L796.5 952.5L797.2 910.8L797.9 899.0L798.6 898.6L799.3 908.3L800.0 911.6L800.7 953.8L801.4 928.3L802.1 935.8L802.8 918.7L803.5 918.5L804.2 937.1L804.9 947.0L805.6 913.7L806.3 927.7L807.0 940.4L807.7 951.1L808.4 916.8L809.1 926.0L809.8 936.5L810.5 916.5L811.2 939.8L811.9 959.0L812.6 918.8L813.3 930.4L814.0 910.9L814.7 934.4L815.4 955.9L816.1 936.1L816.8 915.4L817.5 919.2L818.2 941.7L818.9 953.7L819.6 928.5L820.3 931.3L821.0 950.8L821.7 910.4L822.4 959.3L823.1 929.1L823.8 919.8L824.5 952.2L825.2 914.8L825.9 909.9L826.6 915.7L827.3 945.4L828.0 906.5L828.7 927.8L829.4 916.1L830.1 936.4L830.8 912.0L831.5 948.1L832.2 954.5L832.9 922.3L833.6 923.6L834.3 939.1L835.0 946.3L835.7 909.9L836.4 942.9L837.1 947.6L837.8 945.5L838.5 929.2L839.2 948.1L839.9 935.9L840.6 918.0L841.3 921.1L842.0 938.3L842.7 936.5L843.4 947.5L844.1 943.9L844.8 920.2L845.5 926.7L846.2 946.7L846.9 929.7L847.6 918.6L848.3 952.9L849.0 929.0L849.7 921.6L850.4 933.9L851.1 921.7L851.8 919.1L852.5 941.3L853.2 945.6L853.9 927.9L854.6 917.3L855.3 930.9L856.0 927.7L856.7 929.4L857.4 924.0L858.1 945.4L858.8 921.4L859.5 917.4L860.2 941.9L860.9 944.0L861.6 922.5L862.3 917.2L863.0 938.5L863.7 953.7L864.4 920.2L865.1 936.0L865.8 919.5L866.5 947.9L867.2 929.4L867.9 923.6L868.6 943.6L869.3 935.9L870.0 914.6L870.7 926.5L871.4 957.9L872.1 950.4L872.8 934.0L873.5 944.2L874.2 908.8L874.9 925.0L875.6 960.1L876.3 909.9L877.0 963.3L877.7 957.2L878.4 947.8L879.1 922.0L879.8 907.1L880.5 917.8L881.2 948.4L881.9 926.4L882.6 951.9L883.3 916.0L884.0 949.6L884.7 951.3L885.4 945.4L886.1 918.5L886.8 918.9L887.5 914.0L888.2 916.4L888.9 941.5L889.6 932.1L890.3 942.0L891.0 923.3L891.7 925.7L892.4 948.1L893.1 952.3L893.8 916.4L894.5 943.1L895.2 935.6L895.9 914.4L896.6 939.0L897.3 922.0L898.0 924.9L898.7 956.4L899.4 947.1L900.1 908.7L900.8 944.0L901.5 909.2L902.2 952.6L902.9 939.2L903.6 942.0L904.3 904.3L905.0 908.7L905.7 935.2L906.4 921.2L907.1 951.9L907.8 917.2L908.5 924.6L909.2 910.1L909.9 933.0L910.6 957.3L911.3 916.6L912.0 950.5L912.7 913.4L913.4 953.1L914.1 933.8L914.8 912.3L915.5 949.0L916.2 952.7L916.9 912.4L917.6 910.2L918.3 918.3L919.0 934.1L919.7 957.4L920.4 952.9L921.1 921.4L921.8 907.0L922.5 939.8L923.2 938.3L923.9 917.1L924.6 939.6L925.3 956.6L926.0 914.0L926.7 922.1L927.4 948.7L928.1 913.9L928.8 913.3L929.5 913.2L930.2 949.5L930.9 909.2L931.6 908.0L932.3 941.8L933.0 949.5L933.7 949.7L934.4 926.1L935.1 958.5L935.8 907.0L936.5 925.6L937.2 919.7L937.9 937.4L938.6 908.0L939.3 908.6L940.0 960.8L940.7 918.1L941.4 931.8L942.1 960.1L942.8 915.8L943.5 919.5L944.2 938.8L944.9 899.1L945.6 897.1L946.3 943.5L947.0 919.7L947.7 902.9L948.4 915.9L949.1 947.3L949.8 952.1L950.5 932.4L951.2 910.4L951.9 954.4L952.6 911.6L953.3 948.6L954.0 910.7L954.7 954.4L955.4 947.2L956.1 931.2L956.8 926.8L957.5 935.7L958.2 941.1L958.9 934.7L959.6 941.5L960.3 912.8L961.0 925.4L961.7 945.9L962.4 925.7L963.1 951.2L963.8 932.6L964.5 918.0L965.2 949.9L965.9 923.6L966.6 933.0L967.3 937.8L968.0 946.4L968.7 902.6L969.4 948.8L970.1 933.8L970.8 906.1L971.5 900.1L972.2 951.3L972.9 949.7L973.6 928.9L974.3 901.7L975.0 947.2L975.7 863.9L976.4 867.2L977.1 916.4L977.8 925.0L978.5 858.4L979.2 873.5L979.9 860.8L980.6 874.0L981.3 866.8L982.0 856.3L982.7 855.1L983.4 875.1L984.1 846.4L984.8 899.8L985.5 864.5L986.2 839.6L986.9 874.6L987.6 873.4L988.3 842.3L989.0 823.9L989.7 846.5L990.4 843.0L991.1 839.5L991.8 828.7L992.5 821.5L993.2 813.8L993.9 812.0L994.6 810.8L995.3 818.8L996.0 819.2L996.7 814.9L997.4 812.4L998.1 821.8L998.8 850.1L999.5 827.3L1000.2 823.7L1000.9 846.1L1001.6 848.3L1002.3 880.8L1003.0 879.5L1003.7 877.1L1004.4 906.4L1005.1 909.1L1005.8 856.8L1006.5 869.3L1007.2 890.7L1007.9 849.9L1008.6 928.0L1009.3 932.0L1010.0 881.8L1010.7 944.0L1011.4 926.7L1012.1 874.5L1012.8 933.0L1013.5 937.6L1014.2 941.5L1014.9 954.9L1015.6 954.2L1016.3 910.3L1017.0 915.1L1017.7 875.5L1018.4 917.1L1019.1 899.5L1019.8 902.9L1020.5 946.3L1021.2 908.0L1021.9 913.1L1022.6 939.2L1023.3 934.8L1024.0 926.3L1024.7 944.9L1025.4 919.5L1026.1 916.5L1026.8 932.6L1027.5 912.2L1028.2 942.1L1028.9 951.3L1029.6 945.7L1030.3 949.2L1031.0 910.2L1031.7 926.7L1032.4 952.3L1033.1 950.9L1033.8 939.7L1034.5 942.9L1035.2 918.4L1035.9 919.3L1036.6 910.8L1037.3 953.5L1038.0 920.7L1038.7 956.8L1039.4 908.8L1040.1 947.8L1040.8 935.3L1041.5 912.1L1042.2 942.9L1042.9 942.4L1043.6 941.4L1044.3 941.7L1045.0 942.1L1045.7 946.0L1046.4 927.1L1047.1 952.9L1047.8 932.4L1048.5 921.8L1049.2 956.8L1049.9 922.6L1050.6 930.1L1051.3 941.4L1052.0 937.3L1052.7 910.0L1053.4 890.5L1054.1 893.1L1054.8 891.8L1055.5 894.5L1056.2 894.3L1056.9 922.9L1057.6 938.2L1058.3 946.4L1059.0 946.0L1059.7 944.5L1060.4 938.4L1061.1 953.9L1061.8 917.0L1062.5 946.0L1063.2 951.8L1063.9 948.9L1064.6 919.3L1065.3 934.0L1066.0 974.6L1066.7 971.0L1067.4 937.1L1068.1 954.2L1068.8 971.0L1069.5 964.0L1070.2 939.6L1070.9 913.7L1071.6 917.7L1072.3 905.7L1073.0 913.4L1073.7 905.8L1074.4 950.7L1075.1 950.6L1075.8 929.8L1076.5 959.0L1077.2 913.6L1077.9 915.4L1078.6 944.3L1079.3 938.3L1080.0 912.4L1080.7 958.3L1081.4 943.2L1082.1 941.8L1082.8 927.8L1083.5 942.0L1084.2 914.0L1084.9 923.4L1085.6 943.5L1086.3 941.9L1087.0 937.9L1087.7 911.8L1088.4 925.0L1089.1 961.6L1089.8 961.3L1090.5 955.4L1091.2 908.3L1091.9 908.6L1092.6 915.5L1093.3 958.4L1094.0 915.1L1094.7 917.7L1095.4 918.5L1096.1 952.7L1096.8 938.3L1097.5 956.4L1098.2 910.6L1098.9 912.0L1099.6 955.4L1100.3 913.5L1101.0 953.1L1101.7 943.0L1102.4 919.1L1103.1 922.1L1103.8 948.1L1104.5 914.8L1105.2 955.3L1105.9 916.5L1106.6 920.0L1107.3 943.8L1108.0 919.9L1108.7 953.7L1109.4 932.5L1110.1 920.7L1110.8 923.4L1111.5 938.2L1112.2 949.3L1112.9 926.6L1113.6 930.6L1114.3 940.4L1115.0 944.1L1115.7 947.0L1116.4 926.5L1117.1 927.9L1117.8 957.4L1118.5 960.1L1119.2 929.7L1119.9 963.5L1120.6 916.6L1121.3 957.7L1122.0 960.6L1122.7 941.6L1123.4 950.2L1124.1 908.5L1124.8 959.5L1125.5 950.3L1126.2 943.1L1126.9 943.0L1127.6 916.1L1128.3 956.1L1129.0 939.2L1129.7 944.8L1130.4 914.1L1131.1 945.4L1131.8 917.7L1132.5 954.2L1133.2 909.5L1133.9 914.5L1134.6 919.8L1135.3 929.8L1136.0 954.2L1136.7 914.8L1137.4 940.0L1138.1 915.7L1138.8 930.2L1139.5 927.3L1140.2 923.3L1140.9 934.7L1141.6 929.6L1142.3 926.7L1143.0 941.8L1143.7 924.2L1144.4 957.0L1145.1 921.9L1145.8 959.8L1146.5 916.8L1147.2 960.5L1147.9 911.7L1148.6 907.8L1149.3 912.7L1150.0 950.7L1150.7 917.2L1151.4 920.6L1152.1 948.2L1152.8 910.7L1153.5 939.4L1154.2 929.1L1154.9 917.7L1155.6 959.1L1156.3 926.7L1157.0 923.7L1157.7 948.5L1158.4 957.0L1159.1 919.7L1159.8 917.2L1160.5 957.7L1161.2 930.9L1161.9 939.2L1162.6 932.2L1163.3 956.1L1164.0 930.5L1164.7 949.5L1165.4 937.8L1166.1 919.3L1166.8 936.8L1167.5 947.9L1168.2 937.4L1168.9 931.9L1169.6 921.5L1170.3 943.2L1171.0 931.5L1171.7 929.8L1172.4 931.3L1173.1 932.5L1173.8 929.7L1174.5 927.1L1175.2 933.7L1175.9 917.8L1176.6 922.7L1177.3 931.3L1178.0 957.7L1178.7 930.2L1179.4 940.4L1180.1 957.7L1180.8 954.9L1181.5 948.6L1182.2 944.6L1182.9 942.6L1183.6 918.1L1184.3 916.4L1185.0 911.9L1185.7 913.9L1186.4 943.7L1187.1 943.6L1187.8 911.6L1188.5 955.5L1189.2 931.0L1189.9 939.4L1190.6 914.3L1191.3 957.6L1192.0 911.4L1192.7 917.1L1193.4 932.7L1194.1 935.6L1194.8 938.9L1195.5 959.0L1196.2 911.5L1196.9 945.8L1197.6 931.3L1198.3 951.4L1199.0 945.8L1199.7 952.2L1200.4 955.3L1201.1 951.6L1201.8 918.4L1202.5 938.7L1203.2 952.0L1203.9 951.7L1204.6 960.8L1205.3 929.3L1206.0 908.0L1206.7 951.8L1207.4 919.9L1208.1 947.5L1208.8 909.3L1209.5 924.7L1210.2 946.3L1210.9 913.8L1211.6 922.9L1212.3 912.8L1213.0 959.9L1213.7 954.9L1214.4 945.7L1215.1 938.0L1215.8 963.2L1216.5 919.4L1217.2 949.7L1217.9 911.8L1218.6 944.7L1219.3 918.1L1220.0 912.3L1220.7 957.2L1221.4 923.4L1222.1 957.6L1222.8 945.9L1223.5 945.1L1224.2 945.9L1224.9 959.6L1225.6 921.8L1226.3 957.8L1227.0 925.3L1227.7 916.0L1228.4 956.2L1229.1 915.9L1229.8 933.5L1230.5 954.7L1231.2 922.2L1231.9 949.8L1232.6 944.7L1233.3 947.2L1234.0 917.1L1234.7 946.6L1235.4 952.3L1236.1 919.8L1236.8 953.3L1237.5 951.8L1238.2 927.1L1238.9 953.5L1239.6 953.0L1240.3 921.0L1241.0 947.5L1241.7 954.4L1242.4 948.9L1243.1 920.4L1243.8 930.9L1244.5 939.8L1245.2 928.7L1245.9 928.8L1246.6 915.0L1247.3 909.8L1248.0 923.3L1248.7 929.1L1249.4 942.5L1250.1 964.9L1250.8 910.0L1251.5 923.8L1252.2 960.5L1252.9 956.9L1253.6 909.1L1254.3 949.7L1255.0 908.5L1255.7 965.3L1256.4 917.2L1257.1 945.7L1257.8 932.4L1258.5 937.2L1259.2 915.8L1259.9 925.7L1260.6 922.7L1261.3 943.1L1262.0 929.7L1262.7 942.9L1263.4 939.0L1264.1 946.8L1264.8 962.2L1265.5 938.8L1266.2 940.1L1266.9 944.7L1267.6 940.5L1268.3 927.8L1269.0 917.3L1269.7 939.8L1270.4 914.7L1271.1 950.3L1271.8 963.7L1272.5 958.0L1273.2 956.1L1273.9 916.2L1274.6 905.1L1275.3 914.9L1276.0 941.6L1276.7 913.0L1277.4 914.4L1278.1 961.5L1278.8 927.0L1279.5 916.0L1280.2 936.7L1280.9 945.9L1281.6 932.7L1282.3 919.2L1283.0 936.3L1283.7 917.6L1284.4 929.7L1285.1 904.9L1285.8 866.7L1286.5 867.3L1287.2 868.9L1287.9 871.1L1288.6 876.1L1289.3 898.9L1290.0 927.2L1290.7 910.1L1291.4 957.2L1292.1 937.5L1292.8 920.3L1293.5 957.3L1294.2 914.0L1294.9 937.3L1295.6 936.4L1296.3 911.0L1297.0 956.3L1297.7 949.7L1298.4 914.7L1299.1 929.4L1299.8 922.8L1300.5 959.9L1301.2 948.1L1301.9 964.4L1302.6 954.3L1303.3 953.6L1304.0 921.9L1304.7 956.4L1305.4 923.9L1306.1 957.0L1306.8 949.4L1307.5 936.7L1308.2 916.8L1308.9 942.6L1309.6 944.3L1310.3 948.1L1311.0 912.8L1311.7 920.8L1312.4 939.9L1313.1 953.9L1313.8 920.9L1314.5 956.4L1315.2 960.1L1315.9 913.8L1316.6 949.4L1317.3 928.5L1318.0 915.9L1318.7 919.2L1319.4 926.3L1320.1 914.5L1320.8 945.0L1321.5 932.4L1322.2 926.7L1322.9 954.0L1323.6 956.3L1324.3 932.1L1325.0 924.6L1325.7 941.5L1326.4 929.7L1327.1 954.4L1327.8 923.9L1328.5 918.2L1329.2 914.5L1329.9 917.5L1330.6 913.7L1331.3 957.7L1332.0 945.6L1332.7 940.7L1333.4 957.2L1334.1 942.2L1334.8 945.0L1335.5 920.7L1336.2 924.7L1336.9 941.7L1337.6 949.8L1338.3 925.1L1339.0 932.5L1339.7 925.9L1340.4 926.5L1341.1 938.8L1341.8 952.2L1342.5 955.6L1343.2 939.6L1343.9 915.1L1344.6 923.4L1345.3 944.8L1346.0 953.8L1346.7 918.3L1347.4 951.5L1348.1 955.0L1348.8 913.2L1349.5 955.6L1350.2 941.5L1350.9 954.5L1351.6 945.7L1352.3 944.9L1353.0 952.9L1353.7 948.6L1354.4 929.3L1355.1 928.3L1355.8 957.5L1356.5 922.7L1357.2 927.8L1357.9 920.9L1358.6 927.3L1359.3 940.1L1360.0 920.5L1360.7 930.6L1361.4 941.5L1362.1 927.9L1362.8 949.1L1363.5 936.8L1364.2 922.6L1364.9 949.8L1365.6 939.4L1366.3 930.9L1367.0 917.1L1367.7 963.5L1368.4 913.7L1369.1 925.9L1369.8 942.4L1370.5 960.7L1371.2 922.2L1371.9 912.7L1372.6 947.0L1373.3 955.4L1374.0 931.6L1374.7 958.8L1375.4 923.6L1376.1 956.5L1376.8 905.0L1377.5 946.8L1378.2 954.9L1378.9 923.0L1379.6 951.4L1380.3 940.3L1381.0 925.8L1381.7 919.3L1382.4 941.7L1383.1 929.0L1383.8 937.1L1384.5 925.2L1385.2 921.7L1385.9 924.6L1386.6 938.1L1387.3 926.6L1388.0 929.1L1388.7 938.0L1389.4 928.5L1390.1 933.1L1390.8 930.3L1391.5 947.7L1392.2 929.1L1392.9 924.6L1393.6 953.2L1394.3 922.0L1395.0 940.9L1395.7 940.0L1396.4 928.1L1397.1 946.2L1397.8 943.7L1398.5 933.0L1399.2 927.6L1399.9 920.8L1400.6 945.3L1401.3 947.7L1402.0 927.4L1402.7 927.9L1403.4 940.3L1404.1 946.3L1404.8 948.8L1405.5 945.9L1406.2 944.0L1406.9 941.7L1407.6 911.4L1408.3 932.9L1409.0 946.0L1409.7 923.1L1410.4 918.5L1411.1 926.8L1411.8 937.7L1412.5 904.8L1413.2 950.6L1413.9 947.1L1414.6 914.5L1415.3 914.9L1416.0 913.1L1416.7 925.0L1417.4 956.8L1418.1 922.4L1418.8 955.7L1419.5 909.3L1420.2 909.0L1420.9 922.9L1421.6 899.4L1422.3 900.2L1423.0 919.4L1423.7 906.6L1424.4 920.1L1425.1 893.0L1425.8 897.2L1426.5 918.4L1427.2 913.8L1427.9 886.8L1428.6 897.5L1429.3 888.6L1430.0 876.3L1430.7 907.8L1431.4 875.4L1432.1 869.2L1432.8 875.7L1433.5 874.5L1434.2 872.5L1434.9 869.8L1435.6 872.1L1436.3 885.0L1437.0 866.0L1437.7 873.9L1438.4 860.8L1439.1 885.6L1439.8 867.7L1440.5 866.2L1441.2 869.5L1441.9 882.1L1442.6 880.1L1443.3 898.6L1444.0 889.2L1444.7 869.9L1445.4 896.7L1446.1 879.6L1446.8 899.6L1447.5 884.1L1448.2 895.6L1448.9 865.3L1449.6 893.0L1450.3 893.9L1451.0 880.1L1451.7 920.6L1452.4 918.0L1453.1 889.5L1453.8 916.4L1454.5 925.2L1455.2 907.3L1455.9 906.9L1456.6 915.6L1457.3 909.2L1458.0 922.1L1458.7 931.0L1459.4 912.6L1460.1 942.5L1460.8 926.5L1461.5 936.0L1462.2 916.8L1462.9 947.2L1463.6 913.0L1464.3 930.8L1465.0 935.9L1465.7 904.5L1466.4 952.3L1467.1 938.4L1467.8 911.7L1468.5 952.4L1469.2 946.3L1469.9 953.4L1470.6 944.2L1471.3 934.6L1472.0 946.6L1472.7 927.3L1473.4 930.3L1474.1 926.7L1474.8 926.2L1475.5 952.5L1476.2 935.2L1476.9 935.3L1477.6 928.2L1478.3 926.4L1479.0 923.8L1479.7 951.7L1480.4 945.7L1481.1 933.1L1481.8 941.5L1482.5 952.9L1483.2 926.6L1483.9 923.1L1484.6 932.9L1485.3 932.1L1486.0 949.1L1486.7 952.8L1487.4 953.5L1488.1 947.4L1488.8 937.8L1489.5 916.0L1490.2 956.8L1490.9 953.4L1491.6 937.4L1492.3 950.2L1493.0 956.7L1493.7 921.3L1494.4 941.4L1495.1 963.3L1495.8 914.4L1496.5 912.0L1497.2 961.6L1497.9 957.6L1498.6 907.8L1499.3 942.3L1500.0 946.8L1500.7 950.2L1501.4 944.2L1502.1 940.3L1502.8 942.4L1503.5 945.0L1504.2 915.8L1504.9 918.4L1505.6 925.0L1506.3 953.2L1507.0 932.9L1507.7 941.6L1508.4 954.7L1509.1 917.7L1509.8 922.1L1510.5 925.1L1511.2 951.5L1511.9 945.4L1512.6 917.9L1513.3 915.9L1514.0 918.4L1514.7 954.6L1515.4 929.6L1516.1 953.9L1516.8 950.8L1517.5 953.5L1518.2 938.1L1518.9 923.9L1519.6 936.5L1520.3 954.3L1521.0 956.0L1521.7 928.6L1522.4 933.9L1523.1 951.8L1523.8 927.8L1524.5 919.5L1525.2 921.8L1525.9 932.9L1526.6 917.9L1527.3 953.5L1528.0 946.2L1528.7 960.1L1529.4 951.2L1530.1 930.5L1530.8 913.0L1531.5 915.7L1532.2 960.1L1532.9 948.3L1533.6 911.7L1534.3 934.6L1535.0 950.3L1535.7 951.6L1536.4 953.6L1537.1 956.2L1537.8 932.7L1538.5 944.8L1539.2 913.4L1539.9 942.9L1540.6 935.5L1541.3 921.0L1542.0 922.5L1542.7 944.8L1543.4 921.2L1544.1 926.3L1544.8 927.5L1545.5 943.1L1546.2 922.5L1546.9 914.5L1547.6 896.2L1548.3 881.9L1549.0 867.9L1549.7 870.9L1550.4 872.4L1551.1 881.1L1551.8 904.8L1552.5 928.7L1553.2 914.8L1553.9 922.2L1554.6 926.4L1555.3 910.2L1556.0 934.9L1556.7 918.2L1557.4 902.9L1558.1 906.6L1558.8 917.3L1559.5 944.1L1560.2 952.8L1560.9 929.0L1561.6 901.9L1562.3 937.9L1563.0 951.1L1563.7 907.8L1564.4 920.9L1565.1 909.3L1565.8 933.2L1566.5 910.0L1567.2 946.9L1567.9 921.0L1568.6 933.2L1569.3 915.4L1570.0 915.0L1570.7 898.4L1571.4 940.6L1572.1 906.8L1572.8 903.1L1573.5 906.9L1574.2 894.1L1574.9 898.4L1575.6 893.8L1576.3 936.1L1577.0 925.5L1577.7 884.5L1578.4 914.3L1579.1 864.5L1579.8 890.3L1580.5 893.0L1581.2 856.4L1581.9 845.4L1582.6 868.8L1583.3 854.3L1584.0 856.9L1584.7 813.9L1585.4 804.9L1586.1 792.4L1586.8 792.2L1587.5 774.7L1588.2 787.3L1588.9 760.8L1589.6 764.7L1590.3 761.0L1591.0 749.5L1591.7 754.8L1592.4 755.7L1593.1 750.6L1593.8 755.2L1594.5 755.1L1595.2 780.5L1595.9 786.9L1596.6 803.1L1597.3 780.9L1598.0 787.0L1598.7 783.3L1599.4 791.5L1600.1 850.9L1600.8 842.4L1601.5 840.0L1602.2 832.9L1602.9 884.3L1603.6 841.6L1604.3 886.4L1605.0 889.5L1605.7 903.1L1606.4 907.4L1607.1 909.5L1607.8 906.4L1608.5 898.4L1609.2 924.2L1609.9 888.2L1610.6 898.9L1611.3 918.3L1612.0 925.3L1612.7 913.7L1613.4 891.8L1614.1 922.4L1614.8 911.9L1615.5 910.7L1616.2 890.8L1616.9 889.6L1617.6 910.0L1618.3 889.2L1619.0 896.1L1619.7 933.1L1620.4 913.7L1621.1 908.0L1621.8 897.0L1622.5 876.0L1623.2 893.4L1623.9 880.8L1624.6 931.2L1625.3 923.0L1626.0 921.7L1626.7 934.0L1627.4 888.6L1628.1 894.9L1628.8 929.1L1629.5 891.3L1630.2 933.9L1630.9 920.2L1631.6 904.9L1632.3 907.1L1633.0 905.6L1633.7 920.6L1634.4 908.6L1635.1 945.3L1635.8 946.9L1636.5 949.1L1637.2 953.0L1637.9 943.1L1638.6 954.7L1639.3 948.5L1640.0 932.3L1640.7 910.4L1641.4 936.8L1642.1 938.8L1642.8 949.7L1643.5 956.4L1644.2 944.4L1644.9 912.5L1645.6 912.7L1646.3 957.0L1647.0 958.6L1647.7 928.4L1648.4 913.0L1649.1 914.8L1649.8 912.8L1650.5 959.2L1651.2 929.6L1651.9 933.4L1652.6 954.9L1653.3 922.0L1654.0 939.4L1654.7 942.3L1655.4 931.0L1656.1 919.7L1656.8 931.7L1657.5 915.9L1658.2 925.4L1658.9 930.5L1659.6 922.4L1660.3 960.3L1661.0 947.3L1661.7 958.6L1662.4 958.5L1663.1 924.0L1663.8 918.9L1664.5 959.3L1665.2 938.2L1665.9 948.7L1666.6 957.5L1667.3 927.4L1668.0 943.3L1668.7 925.2L1669.4 921.3L1670.1 914.7L1670.8 922.2L1671.5 922.3L1672.2 952.2L1672.9 939.1L1673.6 952.8L1674.3 924.3L1675.0 921.5L1675.7 942.8L1676.4 924.9L1677.1 951.2L1677.8 929.6L1678.5 925.5L1679.2 951.6L1679.9 922.1L1680.6 950.2L1681.3 930.9L1682.0 919.8L1682.7 944.4L1683.4 944.3L1684.1 919.1L1684.8 934.6L1685.5 934.9L1686.2 948.5L1686.9 922.9L1687.6 941.6L1688.3 960.6L1689.0 916.7L1689.7 949.6L1690.4 928.9L1691.1 936.0L1691.8 924.1L1692.5 934.2L1693.2 936.9L1693.9 958.9L1694.6 957.2L1695.3 957.7L1696.0 957.2L1696.7 931.4L1697.4 949.9L1698.1 954.1L1698.8 920.0L1699.5 948.4L1700.2 941.7L1700.9 924.9L1701.6 943.8L1702.3 946.6L1703.0 944.0L1703.7 921.6L1704.4 952.2L1705.1 929.7L1705.8 950.0L1706.5 923.4L1707.2 942.7L1707.9 919.3L1708.6 940.7L1709.3 944.8L1710.0 931.1L1710.7 946.4L1711.4 935.6L1712.1 920.3L1712.8 919.4L1713.5 917.6L1714.2 929.5L1714.9 952.7L1715.6 928.7L1716.3 950.2L1717.0 944.0L1717.7 945.1L1718.4 943.4L1719.1 925.9L1719.8 949.7L1720.5 932.6L1721.2 954.4L1721.9 918.5L1722.6 922.3L1723.3 922.9L1724.0 946.7L1724.7 920.8L1725.4 933.0L1726.1 937.9L1726.8 937.8L1727.5 927.7L1728.2 951.6L1728.9 934.0L1729.6 922.9L1730.3 940.2L1731.0 920.7L1731.7 945.0L1732.4 921.7L1733.1 953.1L1733.8 918.0L1734.5 926.5L1735.2 922.1L1735.9 941.6L1736.6 929.7L1737.3 932.3L1738.0 932.1L1738.7 944.2L1739.4 922.5L1740.1 921.4L1740.8 921.8L1741.5 916.4L1742.2 945.4L1742.9 960.5L1743.6 970.5L1744.3 965.4L1745.0 912.9L1745.7 951.1L1746.4 911.1L1747.1 955.7L1747.8 957.1L1748.5 934.3L1749.2 963.1L1749.9 933.3L1750.6 939.5L1751.3 927.7L1752.0 950.9L1752.7 940.5L1753.4 936.4L1754.1 932.2L1754.8 948.0L1755.5 918.6L1756.2 943.0L1756.9 916.8L1757.6 923.9L1758.3 919.3L1759.0 937.5L1759.7 953.1L1760.4 922.8L1761.1 919.3L1761.8 938.2L1762.5 916.2L1763.2 928.5L1763.9 932.2L1764.6 918.3L1765.3 953.9L1766.0 928.7L1766.7 941.0L1767.4 916.2L1768.1 961.2L1768.8 916.0L1769.5 932.5L1770.2 911.4L1770.9 915.0L1771.6 913.5L1772.3 926.9L1773.0 912.1L1773.7 932.5L1774.4 940.9L1775.1 917.7L1775.8 950.5L1776.5 912.8L1777.2 940.4L1777.9 951.7L1778.6 942.4L1779.3 909.2L1780.0 913.9L1780.7 910.5L1781.4 915.0L1782.1 937.1L1782.8 960.4L1783.5 925.3L1784.2 952.4L1784.9 919.3L1785.6 959.6L1786.3 925.8L1787.0 915.6L1787.7 915.8L1788.4 910.7L1789.1 910.7L1789.8 955.9L1790.5 947.1L1791.2 912.3L1791.9 940.9L1792.6 929.2L1793.3 908.0L1794.0 959.0L1794.7 915.9L1795.4 937.8L1796.1 921.7L1796.8 929.9L1797.5 960.3L1798.2 948.0L1798.9 913.7L1799.6 945.6L1800.3 926.6L1801.0 913.7L1801.7 933.8L1802.4 913.8L1803.1 946.8L1803.8 914.4L1804.5 903.1L1805.2 948.8L1805.9 904.3L1806.6 939.9L1807.3 946.4L1808.0 938.1L1808.7 948.2L1809.4 906.8L1810.1 909.5L1810.8 928.1L1811.5 892.4L1812.2 939.3L1812.9 921.3L1813.6 918.5L1814.3 910.9L1815.0 902.8L1815.7 885.2L1816.4 878.1L1817.1 879.0L1817.8 867.1L1818.5 883.1L1819.2 860.0L1819.9 878.6L1820.6 841.9L1821.3 839.8L1822.0 856.5L1822.7 836.9L1823.4 814.3L1824.1 823.0L1824.8 792.3L1825.5 768.6L1826.2 802.0L1826.9 784.8L1827.6 767.7L1828.3 730.6L1829.0 734.5L1829.7 705.7L1830.4 699.7L1831.1 720.0L1831.8 702.0L1832.5 697.0L1833.2 700.5L1833.9 698.7L1834.6 702.3L1835.3 699.2L1836.0 708.5L1836.7 713.9L1837.4 718.4L1838.1 724.7L1838.8 757.8L1839.5 763.3L1840.2 770.4L1840.9 768.9L1841.6 797.3L1842.3 795.7L1843.0 790.5L1843.7 828.8L1844.4 841.1L1845.1 861.8L1845.8 864.5L1846.5 838.4L1847.2 855.4L1847.9 850.8L1848.6 860.3L1849.3 881.8L1850.0 875.8L1850.7 873.2L1851.4 905.0L1852.1 921.0L1852.8 918.0L1853.5 881.1L1854.2 892.5L1854.9 878.9L1855.6 896.5L1856.3 917.7L1857.0 883.4L1857.7 910.1L1858.4 900.9L1859.1 898.8L1859.8 917.0L1860.5 893.3L1861.2 883.6L1861.9 909.7L1862.6 878.3L1863.3 875.9L1864.0 906.7L1864.7 891.3L1865.4 904.6L1866.1 900.2L1866.8 921.8L1867.5 910.2L1868.2 893.2L1868.9 926.0L1869.6 928.8L1870.3 915.8L1871.0 928.0L1871.7 895.7L1872.4 914.5L1873.1 930.3L1873.8 943.8L1874.5 914.1L1875.2 939.8L1875.9 921.8L1876.6 928.8L1877.3 944.0L1878.0 945.2L1878.7 917.8L1879.4 924.2L1880.1 955.8L1880.8 940.1L1881.5 940.8L1882.2 923.5L1882.9 932.5L1883.6 924.0L1884.3 918.1L1885.0 923.7L1885.7 941.7L1886.4 939.2L1887.1 939.4L1887.8 926.7L1888.5 931.9L1889.2 959.1L1889.9 959.6L1890.6 958.5L1891.3 921.5L1892.0 946.6L1892.7 951.7L1893.4 927.9L1894.1 936.0L1894.8 954.7L1895.5 948.7L1896.2 950.2L1896.9 917.8L1897.6 916.4L1898.3 948.4L1899.0 942.6L1899.7 925.2L1900.4 918.6L1901.1 926.5L1901.8 945.6L1902.5 930.5L1903.2 947.7L1903.9 921.9L1904.6 947.2L1905.3 922.2L1906.0 954.5L1906.7 929.4L1907.4 921.8L1908.1 952.7L1908.8 928.5L1909.5 932.6L1910.2 919.3L1910.9 922.7L1911.6 932.4L1912.3 926.2L1913.0 940.3L1913.7 925.5L1914.4 934.4L1915.1 912.9L1915.8 940.3L1916.5 948.8L1917.2 965.4L1917.9 954.7L1918.6 917.2L1919.3 930.3L1920.0 954.4L1920.7 952.8L1921.4 919.3L1922.1 917.2L1922.8 939.7L1923.5 935.8L1924.2 921.2L1924.9 926.1L1925.6 929.1L1926.3 958.0L1927.0 924.9L1927.7 960.5L1928.4 961.8L1929.1 924.7L1929.8 963.5L1930.5 914.7L1931.2 930.4L1931.9 905.7L1932.6 928.8L1933.3 928.0L1934.0 956.2L1934.7 958.9L1935.4 931.1L1936.1 931.3L1936.8 962.7L1937.5 925.0L1938.2 938.9L1938.9 947.4L1939.6 950.8L1940.3 923.5L1941.0 931.5L1941.7 924.3L1942.4 958.1L1943.1 964.5L1943.8 974.9L1944.5 949.1L1945.2 928.7L1945.9 985.9L1946.6 926.8L1947.3 927.2L1948.0 912.9L1948.7 933.7L1949.4 954.2L1950.1 966.4L1950.8 946.0L1951.5 918.6L1952.2 964.2L1952.9 922.7L1953.6 929.1L1954.3 928.5L1955.0 958.6L1955.7 937.0L1956.4 956.3L1957.1 945.2L1957.8 940.5L1958.5 954.9L1959.2 929.2L1959.9 930.9L1960.6 961.0L1961.3 948.2L1962.0 935.2L1962.7 950.0L1963.4 956.1L1964.1 953.5L1964.8 942.9L1965.5 949.6L1966.2 929.5L1966.9 940.9L1967.6 959.6L1968.3 960.9L1969.0 919.7L1969.7 930.0L1970.4 930.6L1971.1 933.5L1971.8 934.2L1972.5 932.7L1973.2 941.0L1973.9 930.8L1974.6 954.0L1975.3 922.6L1976.0 962.8L1976.7 927.7L1977.4 960.5L1978.1 952.4L1978.8 960.8L1979.5 938.9L1980.2 933.2L1980.9 950.5L1981.6 926.0L1982.3 937.2L1983.0 947.6L1983.7 920.0L1984.4 964.1L1985.1 939.6L1985.8 947.0L1986.5 956.7L1987.2 969.2L1987.9 919.3L1988.6 922.8L1989.3 919.1L1990.0 971.3L1990.7 938.1L1991.4 959.3L1992.1 923.9L1992.8 968.9L1993.5 922.3L1994.2 956.1L1994.9 915.2L1995.6 968.1L1996.3 935.6L1997.0 954.8L1997.7 953.0L1998.4 924.5L1999.1 940.1L1999.8 915.5L2000.5 963.7L2001.2 940.5L2001.9 928.4L2002.6 935.8L2003.3 936.3L2004.0 921.1L2004.7 934.6L2005.4 957.8L2006.1 950.3L2006.8 971.6L2007.5 960.3L2008.2 962.8L2008.9 927.5L2009.6 947.4L2010.3 929.7L2011.0 929.1L2011.7 934.7L2012.4 950.9L2013.1 940.3L2013.8 939.0L2014.5 937.2L2015.2 969.5L2015.9 940.1L2016.6 968.2L2017.3 970.9L2018.0 954.2L2018.7 969.3L2019.4 967.6L2020.1 961.5L2020.8 956.7L2021.5 933.3L2022.2 933.2L2022.9 927.2L2023.6 934.4L2024.3 948.0L2025.0 942.6L2025.7 957.8L2026.4 937.3L2027.1 953.0L2027.8 938.9L2028.5 933.2L2029.2 959.3L2029.9 935.9L2030.6 948.2L2031.3 933.4L2032.0 956.2L2032.7 928.4L2033.4 922.4L2034.1 956.5L2034.8 945.9L2035.5 958.0L2036.2 920.0L2036.9 964.4L2037.6 918.4L2038.3 977.2L2039.0 978.3L2039.7 967.6L2040.4 933.3L2041.1 957.7L2041.8 974.2L2042.5 961.3L2043.2 958.0L2043.9 922.9L2044.6 923.1L2045.3 955.5L2046.0 944.1L2046.7 946.1L2047.4 931.4L2048.1 935.6L2048.8 968.2L2049.5 937.7L2050.2 973.2L2050.9 927.1L2051.6 950.6L2052.3 957.8L2053.0 959.6L2053.7 963.3L2054.4 961.1L2055.1 965.2L2055.8 926.9L2056.5 926.7L2057.2 929.6L2057.9 933.5L2058.6 958.3L2059.3 950.1L2060.0 957.8L2060.7 953.1L2061.4 951.2L2062.1 934.4L2062.8 965.2L2063.5 963.1L2064.2 961.5L2064.9 965.7L2065.6 941.8L2066.3 943.1L2067.0 945.9L2067.7 940.8L2068.4 948.8L2069.1 954.2L2069.8 952.5L2070.5 935.9L2071.2 956.8L2071.9 935.4L2072.6 939.3L2073.3 944.1L2074.0 960.7L2074.7 937.5L2075.4 961.4L2076.1 952.9L2076.8 958.6L2077.5 937.0L2078.2 968.7L2078.9 955.9L2079.6 931.0L2080.3 963.6L2081.0 945.9L2081.7 965.2L2082.4 959.3L2083.1 968.8L2083.8 964.6L2084.5 956.2L2085.2 960.2L2085.9 931.5L2086.6 960.4L2087.3 958.0L2088.0 967.8L2088.7 961.1L2089.4 954.8L2090.1 960.3L2090.8 954.0L2091.5 946.9L2092.2 968.5L2092.9 947.7L2093.6 928.3L2094.3 925.1L2095.0 940.5L2095.7 945.1L2096.4 951.9L2097.1 925.9L2097.8 951.2L2098.5 965.7L2099.2 959.5L2099.9 958.0L2100.6 949.5L2101.3 963.5L2102.0 932.1L2102.7 960.6L2103.4 959.6L2104.1 942.2L2104.8 947.5L2105.5 932.0L2106.2 922.6L2106.9 937.0L2107.6 936.1L2108.3 950.8L2109.0 936.7L2109.7 972.3L2110.4 925.5L2111.1 968.9L2111.8 952.7L2112.5 931.1L2113.2 969.7L2113.9 953.1L2114.6 926.4L2115.3 968.5L2116.0 936.0L2116.7 953.3L2117.4 958.1L2118.1 961.5L2118.8 960.1L2119.5 965.9L2120.2 962.6L2120.9 932.4L2121.6 952.3L2122.3 947.8L2123.0 931.8L2123.7 944.2L2124.4 962.5L2125.1 944.7L2125.8 941.8L2126.5 946.5L2127.2 953.1L2127.9 962.3L2128.6 967.5L2129.3 936.0L2130.0 935.0L2130.7 937.5L2131.4 968.2L2132.1 968.1L2132.8 939.2L2133.5 964.8L2134.2 951.8L2134.9 971.4L2135.6 953.5L2136.3 967.7L2137.0 952.1L2137.7 939.8L2138.4 964.4L2139.1 940.3L2139.8 962.7L2140.5 951.0L2141.2 938.7L2141.9 946.6L2142.6 967.4L2143.3 937.8L2144.0 930.5L2144.7 963.8L2145.4 933.5L2146.1 936.9L2146.8 946.9L2147.5 960.3L2148.2 966.6L2148.9 935.0L2149.6 937.7L2150.3 966.3L2151.0 952.0L2151.7 961.9L2152.4 942.4L2153.1 939.2L2153.8 964.0L2154.5 934.6L2155.2 936.0L2155.9 940.2L2156.6 939.1L2157.3 931.9L2158.0 937.0L2158.7 932.6L2159.4 951.4L2160.1 959.9L2160.8 950.3L2161.5 926.1L2162.2 955.1L2162.9 961.6L2163.6 929.8L2164.3 947.0L2165.0 973.0L2165.7 966.0L2166.4 944.9L2167.1 934.7L2167.8 930.5L2168.5 926.5L2169.2 933.9L2169.9 946.8L2170.6 947.5L2171.3 933.5L2172.0 944.3L2172.7 943.6L2173.4 959.2L2174.1 963.0L2174.8 962.9L2175.5 944.1L2176.2 957.2L2176.9 949.9L2177.6 927.4L2178.3 925.6L2179.0 948.7L2179.7 951.7L2180.4 951.0L2181.1 940.6L2181.8 947.2L2182.5 950.3L2183.2 951.9L2183.9 925.5L2184.6 939.5L2185.3 933.7L2186.0 939.7L2186.7 935.4L2187.4 926.4L2188.1 936.6L2188.8 907.1L2189.5 891.4L2190.2 877.3L2190.9 876.9L2191.6 876.6L2192.3 899.9L2193.0 918.0L2193.7 938.4L2194.4 918.1L2195.1 940.3L2195.8 910.0L2196.5 939.6L2197.2 920.7L2197.9 938.8L2198.6 923.2L2199.3 919.5L2200.0 895.0L2200.7 919.5L2201.4 924.1L2202.1 917.8L2202.8 923.5L2203.5 934.0L2204.2 925.2L2204.9 923.0L2205.6 915.9L2206.3 909.9L2207.0 931.0L2207.7 939.7L2208.4 938.2L2209.1 900.7L2209.8 913.5L2210.5 941.8L2211.2 941.4L2211.9 962.3L2212.6 963.7L2213.3 957.4L2214.0 945.8L2214.7 950.5L2215.4 955.1L2216.1 925.9L2216.8 932.4L2217.5 924.2L2218.2 946.0L2218.9 955.0L2219.6 922.8L2220.3 926.4L2221.0 930.3L2221.7 955.6L2222.4 935.4L2223.1 930.3L2223.8 942.4L2224.5 941.6L2225.2 943.5L2225.9 958.5L2226.6 962.5L2227.3 938.5L2228.0 948.5L2228.7 920.8L2229.4 963.1L2230.1 924.3L2230.8 945.5L2231.5 963.4L2232.2 931.3L2232.9 929.9L2233.6 954.5L2234.3 939.8L2235.0 929.5L2235.7 948.3L2236.4 961.3L2237.1 953.9L2237.8 930.0L2238.5 953.6L2239.2 963.3L2239.9 930.7L2240.6 954.6L2241.3 946.4L2242.0 955.4L2242.7 931.5L2243.4 934.9L2244.1 938.8L2244.8 965.6L2245.5 940.6L2246.2 939.2L2246.9 960.6L2247.6 933.5L2248.3 939.3L2249.0 952.5L2249.7 939.7L2250.4 955.5L2251.1 955.9L2251.8 930.2L2252.5 928.1L2253.2 967.0L2253.9 942.6L2254.6 931.0L2255.3 928.1L2256.0 941.1L2256.7 965.1L2257.4 933.4L2258.1 952.0L2258.8 907.2L2259.5 908.4L2260.2 906.3L2260.9 904.6L2261.6 903.1L2262.3 915.7L2263.0 941.1L2263.7 962.0L2264.4 943.7L2265.1 940.1L2265.8 942.7L2266.5 973.0L2267.2 935.6L2267.9 931.2L2268.6 968.0L2269.3 932.4L2270.0 964.6L2270.7 955.9L2271.4 969.4L2272.1 937.4L2272.8 969.5L2273.5 926.4L2274.2 966.5L2274.9 937.3L2275.6 945.2L2276.3 967.2L2277.0 959.2L2277.7 945.3L2278.4 936.6L2279.1 963.2L2279.8 945.9L2280.5 935.3L2281.2 942.1L2281.9 963.0L2282.6 930.2L2283.3 939.5L2284.0 960.5L2284.7 956.0L2285.4 944.6L2286.1 933.3L2286.8 931.0L2287.5 942.6L2288.2 958.7L2288.9 935.9L2289.6 967.7L2290.3 956.0L2291.0 944.7L2291.7 962.7L2292.4 935.7L2293.1 969.9L2293.8 939.5L2294.5 922.9L2295.2 972.7L2295.9 947.6L2296.6 967.3L2297.3 928.4L2298.0 931.4L2298.7 946.3L2299.4 966.4L2300.1 930.6L2300.8 950.1L2301.5 959.3L2302.2 941.7L2302.9 943.9L2303.6 965.0L2304.3 949.6L2305.0 956.9L2305.7 957.4L2306.4 968.7L2307.1 936.3L2307.8 949.9L2308.5 927.9L2309.2 934.0L2309.9 965.7L2310.6 971.5L2311.3 932.3L2312.0 960.8L2312.7 947.2L2313.4 956.3L2314.1 932.6L2314.8 931.3L2315.5 924.7L2316.2 940.4L2316.9 917.1L2317.6 957.4L2318.3 923.8L2319.0 944.5L2319.7 935.9L2320.4 926.0L2321.1 947.6L2321.8 932.3L2322.5 905.6L2323.2 878.0L2323.9 876.1L2324.6 876.2L2325.3 872.0L2326.0 889.7L2326.7 914.6L2327.4 931.2L2328.1 921.5L2328.8 902.5L2329.5 906.6L2330.2 934.6L2330.9 900.2L2331.6 923.2L2332.3 923.7L2333.0 907.9L2333.7 927.0L2334.4 889.9L2335.1 918.4L2335.8 902.7L2336.5 928.3L2337.2 905.6L2337.9 897.6L2338.6 905.0L2339.3 917.2L2340.0 897.2L2340.7 933.6L2341.4 925.7L2342.1 910.0L2342.8 925.1L2343.5 940.4L2344.2 926.9L2344.9 915.7L2345.6 932.2L2346.3 937.5L2347.0 935.3L2347.7 909.4L2348.4 903.4L2349.1 916.4L2349.8 923.2L2350.5 945.6L2351.2 909.1L2351.9 949.0L2352.6 906.0L2353.3 918.5L2354.0 923.9L2354.7 953.2L2355.4 954.3L2356.1 906.5L2356.8 912.8L2357.5 926.8L2358.2 916.3L2358.9 958.3L2359.6 941.1L2360.3 919.4L2361.0 940.7L2361.7 944.5L2362.4 953.9L2363.1 955.2L2363.8 925.8L2364.5 950.0L2365.2 962.5L2365.9 936.0L2366.6 947.6L2367.3 931.9L2368.0 925.4L2368.7 916.8L2369.4 913.7L2370.1 925.7L2370.8 928.8L2371.5 944.5"/>
</g>
<g fill="#000">
<rect x="421.0" y="1751" width="13.3" height="32"/>
<rect x="851.7" y="1751" width="11.6" height="32"/>
<rect x="1282.7" y="1751" width="11.6" height="32"/>
<rect x="1713.7" y="1751" width="11.6" height="32"/>
<rect x="2144.7" y="1751" width="11.6" height="32"/>
<rect x="636.2" y="1770" width="12.5" height="13"/>
<rect x="1067.2" y="1770" width="11.6" height="13"/>
<rect x="1498.2" y="1770" width="11.6" height="13"/>
<rect x="1929.2" y="1770" width="11.6" height="13"/>
</g>
<rect x="210.5" y="50.5" width="2155.0" height="1736.0" fill="none" stroke="#000" stroke-width="11"/>
<line x1="743" y1="134" x2="922" y2="134" stroke="#cd0000" stroke-width="13.5" stroke-linecap="round"/>
<line x1="742.5" y1="247.4" x2="922.5" y2="247.4" stroke="#0413ae" stroke-width="12" stroke-linecap="round"/>
<text id="lg1" class="lg" transform="translate(964.5 166) scale(1.031 1)">batch additions of the reactant</text>
<text id="lg2" class="lg" transform="translate(946 279) scale(1.031 1)">one-time addition of the reactant</text>
<text id="pk0" class="pk" transform="translate(601.8 345.4) scale(1.025 1)" text-anchor="middle">(311)</text>
<text id="pk1" class="pk" transform="translate(431.1 675.4) scale(1.025 1)" text-anchor="middle">(220)</text>
<text id="pk2" class="pk" transform="translate(995.2 771.4) scale(1.025 1)" text-anchor="middle">(400)</text>
<text id="pk3" class="pk" transform="translate(1612.0 729.0) scale(1.025 1)" text-anchor="middle">(511)</text>
<text id="pk4" class="pk" transform="translate(1848.0 659.5) scale(1.025 1)" text-anchor="middle">(440)</text>
<text id="pk5" class="pk" transform="translate(431.1 1178.2) scale(1.025 1)" text-anchor="middle">(220)</text>
<text id="pk6" class="pk" transform="translate(756.0 1051.2) scale(1.025 1)" text-anchor="middle">(311)</text>
<text id="pk7" class="pk" transform="translate(995.2 1061.3) scale(1.025 1)" text-anchor="middle">(400)</text>
<text id="pk8" class="pk" transform="translate(1612.0 1038.5) scale(1.025 1)" text-anchor="middle">(511)</text>
<text id="pk9" class="pk" transform="translate(1843.5 1030.6) scale(1.025 1)" text-anchor="middle">(440)</text>
<text class="tk" id="tk30" transform="translate(428.0 1938) scale(0.955 1)" text-anchor="middle">30</text>
<text class="tk" id="tk40" transform="translate(858.0 1938) scale(0.955 1)" text-anchor="middle">40</text>
<text class="tk" id="tk50" transform="translate(1289.5 1938) scale(0.955 1)" text-anchor="middle">50</text>
<text class="tk" id="tk60" transform="translate(1719.0 1938) scale(0.955 1)" text-anchor="middle">60</text>
<text class="tk" id="tk70" transform="translate(2149.5 1938) scale(0.955 1)" text-anchor="middle">70</text>
<text id="xl" class="ax" transform="translate(1289 2130) scale(0.9825 1)" text-anchor="middle">2 Theta (°)</text>
<text id="yl" class="ax" transform="translate(151 918) rotate(-90) scale(0.982 1)" text-anchor="middle">Intensity (a.u.)</text>
</svg>
</body>
</html>
